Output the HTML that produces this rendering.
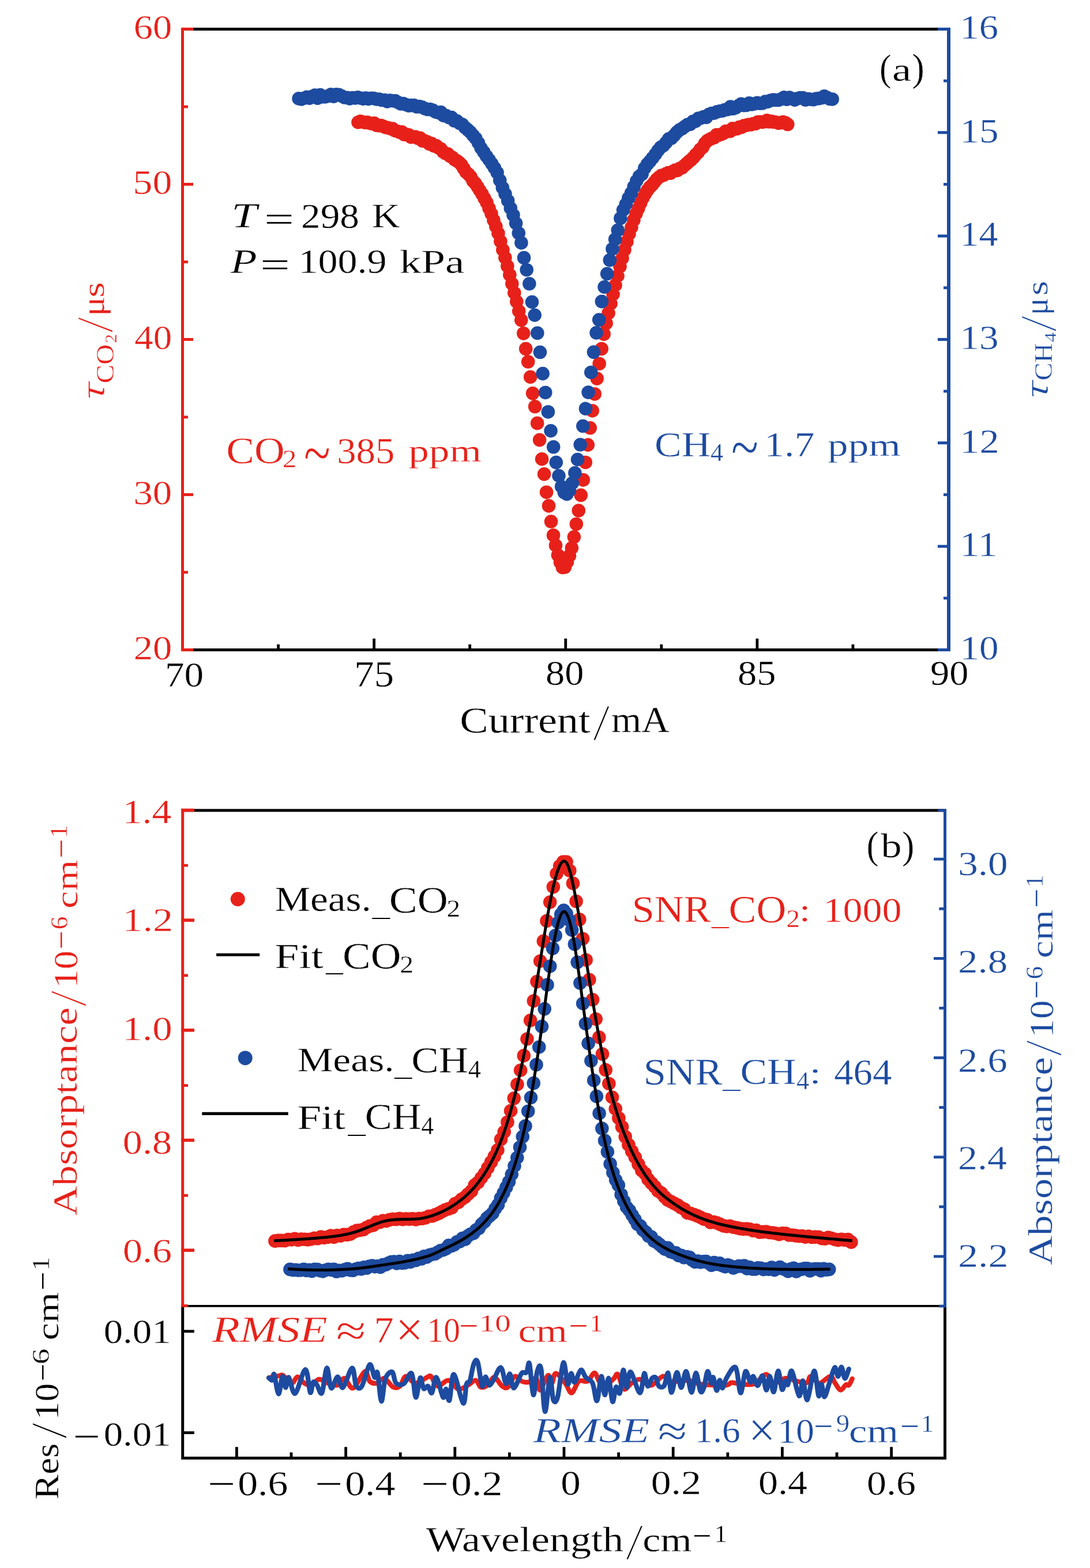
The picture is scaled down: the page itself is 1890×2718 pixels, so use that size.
<!DOCTYPE html>
<html lang="en"><head><meta charset="utf-8"><title>Ring-down time and absorptance of CO2 and CH4</title>
<style>html,body{margin:0;padding:0;background:#fff}svg{display:block}</style></head>
<body>
<svg xmlns="http://www.w3.org/2000/svg" width="1890" height="2718" viewBox="0 0 1890 2718" font-family='"Liberation Serif", serif'>
<rect width="1890" height="2718" fill="#fff"/>
<line x1="316.5" y1="50.5" x2="1645" y2="50.5" stroke="#000000" stroke-width="5"/>
<line x1="316.5" y1="1126.5" x2="1645" y2="1126.5" stroke="#000000" stroke-width="5"/>
<line x1="648.62" y1="1126.5" x2="648.62" y2="1106.9" stroke="#000000" stroke-width="4.8"/>
<line x1="980.75" y1="1126.5" x2="980.75" y2="1106.9" stroke="#000000" stroke-width="4.8"/>
<line x1="1312.88" y1="1126.5" x2="1312.88" y2="1106.9" stroke="#000000" stroke-width="4.8"/>
<line x1="482.56" y1="1126.5" x2="482.56" y2="1117" stroke="#000000" stroke-width="4.8"/>
<line x1="814.69" y1="1126.5" x2="814.69" y2="1117" stroke="#000000" stroke-width="4.8"/>
<line x1="1146.81" y1="1126.5" x2="1146.81" y2="1117" stroke="#000000" stroke-width="4.8"/>
<line x1="1478.94" y1="1126.5" x2="1478.94" y2="1117" stroke="#000000" stroke-width="4.8"/>
<path d="M609.15 211.97a11.8 11.8 0 1 0 23.6 0a11.8 11.8 0 1 0 -23.6 0zM613.13 210.35a11.8 11.8 0 1 0 23.6 0a11.8 11.8 0 1 0 -23.6 0zM617.12 211.45a11.8 11.8 0 1 0 23.6 0a11.8 11.8 0 1 0 -23.6 0zM621.1 212.47a11.8 11.8 0 1 0 23.6 0a11.8 11.8 0 1 0 -23.6 0zM625.08 211.99a11.8 11.8 0 1 0 23.6 0a11.8 11.8 0 1 0 -23.6 0zM629.06 213.52a11.8 11.8 0 1 0 23.6 0a11.8 11.8 0 1 0 -23.6 0zM633.05 214.32a11.8 11.8 0 1 0 23.6 0a11.8 11.8 0 1 0 -23.6 0zM637.03 213.44a11.8 11.8 0 1 0 23.6 0a11.8 11.8 0 1 0 -23.6 0zM641.01 217.13a11.8 11.8 0 1 0 23.6 0a11.8 11.8 0 1 0 -23.6 0zM645 217.72a11.8 11.8 0 1 0 23.6 0a11.8 11.8 0 1 0 -23.6 0zM648.98 217.57a11.8 11.8 0 1 0 23.6 0a11.8 11.8 0 1 0 -23.6 0zM652.96 219.13a11.8 11.8 0 1 0 23.6 0a11.8 11.8 0 1 0 -23.6 0zM656.94 220.95a11.8 11.8 0 1 0 23.6 0a11.8 11.8 0 1 0 -23.6 0zM660.93 221.44a11.8 11.8 0 1 0 23.6 0a11.8 11.8 0 1 0 -23.6 0zM664.91 222.82a11.8 11.8 0 1 0 23.6 0a11.8 11.8 0 1 0 -23.6 0zM668.89 223.05a11.8 11.8 0 1 0 23.6 0a11.8 11.8 0 1 0 -23.6 0zM672.88 226.47a11.8 11.8 0 1 0 23.6 0a11.8 11.8 0 1 0 -23.6 0zM676.86 227.51a11.8 11.8 0 1 0 23.6 0a11.8 11.8 0 1 0 -23.6 0zM680.84 229.08a11.8 11.8 0 1 0 23.6 0a11.8 11.8 0 1 0 -23.6 0zM684.82 228.69a11.8 11.8 0 1 0 23.6 0a11.8 11.8 0 1 0 -23.6 0zM688.81 233.18a11.8 11.8 0 1 0 23.6 0a11.8 11.8 0 1 0 -23.6 0zM692.79 233.08a11.8 11.8 0 1 0 23.6 0a11.8 11.8 0 1 0 -23.6 0zM696.77 233.93a11.8 11.8 0 1 0 23.6 0a11.8 11.8 0 1 0 -23.6 0zM700.76 237.7a11.8 11.8 0 1 0 23.6 0a11.8 11.8 0 1 0 -23.6 0zM704.74 237.11a11.8 11.8 0 1 0 23.6 0a11.8 11.8 0 1 0 -23.6 0zM708.72 237.22a11.8 11.8 0 1 0 23.6 0a11.8 11.8 0 1 0 -23.6 0zM712.71 239.73a11.8 11.8 0 1 0 23.6 0a11.8 11.8 0 1 0 -23.6 0zM716.69 239.4a11.8 11.8 0 1 0 23.6 0a11.8 11.8 0 1 0 -23.6 0zM720.67 244.22a11.8 11.8 0 1 0 23.6 0a11.8 11.8 0 1 0 -23.6 0zM724.65 244.41a11.8 11.8 0 1 0 23.6 0a11.8 11.8 0 1 0 -23.6 0zM728.64 245.82a11.8 11.8 0 1 0 23.6 0a11.8 11.8 0 1 0 -23.6 0zM732.62 249.4a11.8 11.8 0 1 0 23.6 0a11.8 11.8 0 1 0 -23.6 0zM736.6 248.72a11.8 11.8 0 1 0 23.6 0a11.8 11.8 0 1 0 -23.6 0zM740.59 252.89a11.8 11.8 0 1 0 23.6 0a11.8 11.8 0 1 0 -23.6 0zM744.57 252.57a11.8 11.8 0 1 0 23.6 0a11.8 11.8 0 1 0 -23.6 0zM748.55 256.2a11.8 11.8 0 1 0 23.6 0a11.8 11.8 0 1 0 -23.6 0zM752.53 258.07a11.8 11.8 0 1 0 23.6 0a11.8 11.8 0 1 0 -23.6 0zM756.52 263.08a11.8 11.8 0 1 0 23.6 0a11.8 11.8 0 1 0 -23.6 0zM760.5 265.95a11.8 11.8 0 1 0 23.6 0a11.8 11.8 0 1 0 -23.6 0zM764.48 266.69a11.8 11.8 0 1 0 23.6 0a11.8 11.8 0 1 0 -23.6 0zM768.47 270.62a11.8 11.8 0 1 0 23.6 0a11.8 11.8 0 1 0 -23.6 0zM772.45 272.69a11.8 11.8 0 1 0 23.6 0a11.8 11.8 0 1 0 -23.6 0zM776.43 276.59a11.8 11.8 0 1 0 23.6 0a11.8 11.8 0 1 0 -23.6 0zM780.41 278.83a11.8 11.8 0 1 0 23.6 0a11.8 11.8 0 1 0 -23.6 0zM784.4 281.74a11.8 11.8 0 1 0 23.6 0a11.8 11.8 0 1 0 -23.6 0zM788.38 285.85a11.8 11.8 0 1 0 23.6 0a11.8 11.8 0 1 0 -23.6 0zM792.36 292.21a11.8 11.8 0 1 0 23.6 0a11.8 11.8 0 1 0 -23.6 0zM796.35 298.51a11.8 11.8 0 1 0 23.6 0a11.8 11.8 0 1 0 -23.6 0zM800.33 301.8a11.8 11.8 0 1 0 23.6 0a11.8 11.8 0 1 0 -23.6 0zM804.31 306.25a11.8 11.8 0 1 0 23.6 0a11.8 11.8 0 1 0 -23.6 0zM808.29 313.58a11.8 11.8 0 1 0 23.6 0a11.8 11.8 0 1 0 -23.6 0zM812.28 317.93a11.8 11.8 0 1 0 23.6 0a11.8 11.8 0 1 0 -23.6 0zM816.26 323.82a11.8 11.8 0 1 0 23.6 0a11.8 11.8 0 1 0 -23.6 0zM820.24 330.26a11.8 11.8 0 1 0 23.6 0a11.8 11.8 0 1 0 -23.6 0zM824.23 336.71a11.8 11.8 0 1 0 23.6 0a11.8 11.8 0 1 0 -23.6 0zM828.21 343.86a11.8 11.8 0 1 0 23.6 0a11.8 11.8 0 1 0 -23.6 0zM832.19 351.11a11.8 11.8 0 1 0 23.6 0a11.8 11.8 0 1 0 -23.6 0zM836.17 361.15a11.8 11.8 0 1 0 23.6 0a11.8 11.8 0 1 0 -23.6 0zM840.16 370.47a11.8 11.8 0 1 0 23.6 0a11.8 11.8 0 1 0 -23.6 0zM844.14 381.82a11.8 11.8 0 1 0 23.6 0a11.8 11.8 0 1 0 -23.6 0zM848.12 392.59a11.8 11.8 0 1 0 23.6 0a11.8 11.8 0 1 0 -23.6 0zM852.11 404.32a11.8 11.8 0 1 0 23.6 0a11.8 11.8 0 1 0 -23.6 0zM856.09 418.45a11.8 11.8 0 1 0 23.6 0a11.8 11.8 0 1 0 -23.6 0zM860.07 433.16a11.8 11.8 0 1 0 23.6 0a11.8 11.8 0 1 0 -23.6 0zM864.05 446.65a11.8 11.8 0 1 0 23.6 0a11.8 11.8 0 1 0 -23.6 0zM868.04 461.3a11.8 11.8 0 1 0 23.6 0a11.8 11.8 0 1 0 -23.6 0zM872.02 476.36a11.8 11.8 0 1 0 23.6 0a11.8 11.8 0 1 0 -23.6 0zM876 491.84a11.8 11.8 0 1 0 23.6 0a11.8 11.8 0 1 0 -23.6 0zM879.99 507.67a11.8 11.8 0 1 0 23.6 0a11.8 11.8 0 1 0 -23.6 0zM883.97 522.81a11.8 11.8 0 1 0 23.6 0a11.8 11.8 0 1 0 -23.6 0zM887.95 539.31a11.8 11.8 0 1 0 23.6 0a11.8 11.8 0 1 0 -23.6 0zM891.94 554.85a11.8 11.8 0 1 0 23.6 0a11.8 11.8 0 1 0 -23.6 0zM895.92 577.84a11.8 11.8 0 1 0 23.6 0a11.8 11.8 0 1 0 -23.6 0zM899.9 604.62a11.8 11.8 0 1 0 23.6 0a11.8 11.8 0 1 0 -23.6 0zM903.88 627.04a11.8 11.8 0 1 0 23.6 0a11.8 11.8 0 1 0 -23.6 0zM907.87 653.53a11.8 11.8 0 1 0 23.6 0a11.8 11.8 0 1 0 -23.6 0zM911.85 681.82a11.8 11.8 0 1 0 23.6 0a11.8 11.8 0 1 0 -23.6 0zM915.83 704.81a11.8 11.8 0 1 0 23.6 0a11.8 11.8 0 1 0 -23.6 0zM919.82 733.63a11.8 11.8 0 1 0 23.6 0a11.8 11.8 0 1 0 -23.6 0zM923.8 762.56a11.8 11.8 0 1 0 23.6 0a11.8 11.8 0 1 0 -23.6 0zM927.78 795.77a11.8 11.8 0 1 0 23.6 0a11.8 11.8 0 1 0 -23.6 0zM931.76 821.84a11.8 11.8 0 1 0 23.6 0a11.8 11.8 0 1 0 -23.6 0zM935.75 853.19a11.8 11.8 0 1 0 23.6 0a11.8 11.8 0 1 0 -23.6 0zM939.73 876.9a11.8 11.8 0 1 0 23.6 0a11.8 11.8 0 1 0 -23.6 0zM943.71 904.07a11.8 11.8 0 1 0 23.6 0a11.8 11.8 0 1 0 -23.6 0zM947.7 927.92a11.8 11.8 0 1 0 23.6 0a11.8 11.8 0 1 0 -23.6 0zM951.68 945.38a11.8 11.8 0 1 0 23.6 0a11.8 11.8 0 1 0 -23.6 0zM955.66 962.3a11.8 11.8 0 1 0 23.6 0a11.8 11.8 0 1 0 -23.6 0zM959.64 974.81a11.8 11.8 0 1 0 23.6 0a11.8 11.8 0 1 0 -23.6 0zM963.63 983.74a11.8 11.8 0 1 0 23.6 0a11.8 11.8 0 1 0 -23.6 0zM967.61 983.08a11.8 11.8 0 1 0 23.6 0a11.8 11.8 0 1 0 -23.6 0zM971.59 974.09a11.8 11.8 0 1 0 23.6 0a11.8 11.8 0 1 0 -23.6 0zM975.58 963.39a11.8 11.8 0 1 0 23.6 0a11.8 11.8 0 1 0 -23.6 0zM979.56 949.86a11.8 11.8 0 1 0 23.6 0a11.8 11.8 0 1 0 -23.6 0zM983.54 930.86a11.8 11.8 0 1 0 23.6 0a11.8 11.8 0 1 0 -23.6 0zM987.52 908.44a11.8 11.8 0 1 0 23.6 0a11.8 11.8 0 1 0 -23.6 0zM991.51 885.07a11.8 11.8 0 1 0 23.6 0a11.8 11.8 0 1 0 -23.6 0zM995.49 858.36a11.8 11.8 0 1 0 23.6 0a11.8 11.8 0 1 0 -23.6 0zM999.47 831.91a11.8 11.8 0 1 0 23.6 0a11.8 11.8 0 1 0 -23.6 0zM1003.46 801.44a11.8 11.8 0 1 0 23.6 0a11.8 11.8 0 1 0 -23.6 0zM1007.44 771.16a11.8 11.8 0 1 0 23.6 0a11.8 11.8 0 1 0 -23.6 0zM1011.42 741.81a11.8 11.8 0 1 0 23.6 0a11.8 11.8 0 1 0 -23.6 0zM1015.4 712.03a11.8 11.8 0 1 0 23.6 0a11.8 11.8 0 1 0 -23.6 0zM1019.39 682.93a11.8 11.8 0 1 0 23.6 0a11.8 11.8 0 1 0 -23.6 0zM1023.37 656.09a11.8 11.8 0 1 0 23.6 0a11.8 11.8 0 1 0 -23.6 0zM1027.35 630.44a11.8 11.8 0 1 0 23.6 0a11.8 11.8 0 1 0 -23.6 0zM1031.34 604.64a11.8 11.8 0 1 0 23.6 0a11.8 11.8 0 1 0 -23.6 0zM1035.32 579.13a11.8 11.8 0 1 0 23.6 0a11.8 11.8 0 1 0 -23.6 0zM1039.3 560.34a11.8 11.8 0 1 0 23.6 0a11.8 11.8 0 1 0 -23.6 0zM1043.28 542.67a11.8 11.8 0 1 0 23.6 0a11.8 11.8 0 1 0 -23.6 0zM1047.27 526.18a11.8 11.8 0 1 0 23.6 0a11.8 11.8 0 1 0 -23.6 0zM1051.25 510.04a11.8 11.8 0 1 0 23.6 0a11.8 11.8 0 1 0 -23.6 0zM1055.23 494.24a11.8 11.8 0 1 0 23.6 0a11.8 11.8 0 1 0 -23.6 0zM1059.22 478.25a11.8 11.8 0 1 0 23.6 0a11.8 11.8 0 1 0 -23.6 0zM1063.2 462.07a11.8 11.8 0 1 0 23.6 0a11.8 11.8 0 1 0 -23.6 0zM1067.18 447.69a11.8 11.8 0 1 0 23.6 0a11.8 11.8 0 1 0 -23.6 0zM1071.16 433.1a11.8 11.8 0 1 0 23.6 0a11.8 11.8 0 1 0 -23.6 0zM1075.15 418.9a11.8 11.8 0 1 0 23.6 0a11.8 11.8 0 1 0 -23.6 0zM1079.13 405.38a11.8 11.8 0 1 0 23.6 0a11.8 11.8 0 1 0 -23.6 0zM1083.11 393.99a11.8 11.8 0 1 0 23.6 0a11.8 11.8 0 1 0 -23.6 0zM1087.1 381.35a11.8 11.8 0 1 0 23.6 0a11.8 11.8 0 1 0 -23.6 0zM1091.08 370.39a11.8 11.8 0 1 0 23.6 0a11.8 11.8 0 1 0 -23.6 0zM1095.06 361.27a11.8 11.8 0 1 0 23.6 0a11.8 11.8 0 1 0 -23.6 0zM1099.05 351.8a11.8 11.8 0 1 0 23.6 0a11.8 11.8 0 1 0 -23.6 0zM1103.03 342.95a11.8 11.8 0 1 0 23.6 0a11.8 11.8 0 1 0 -23.6 0zM1107.01 335.83a11.8 11.8 0 1 0 23.6 0a11.8 11.8 0 1 0 -23.6 0zM1110.99 329.57a11.8 11.8 0 1 0 23.6 0a11.8 11.8 0 1 0 -23.6 0zM1114.98 324.42a11.8 11.8 0 1 0 23.6 0a11.8 11.8 0 1 0 -23.6 0zM1118.96 320.49a11.8 11.8 0 1 0 23.6 0a11.8 11.8 0 1 0 -23.6 0zM1122.94 315.76a11.8 11.8 0 1 0 23.6 0a11.8 11.8 0 1 0 -23.6 0zM1126.93 310.77a11.8 11.8 0 1 0 23.6 0a11.8 11.8 0 1 0 -23.6 0zM1130.91 307.23a11.8 11.8 0 1 0 23.6 0a11.8 11.8 0 1 0 -23.6 0zM1134.89 304.45a11.8 11.8 0 1 0 23.6 0a11.8 11.8 0 1 0 -23.6 0zM1138.87 303.71a11.8 11.8 0 1 0 23.6 0a11.8 11.8 0 1 0 -23.6 0zM1142.86 301.41a11.8 11.8 0 1 0 23.6 0a11.8 11.8 0 1 0 -23.6 0zM1146.84 299.63a11.8 11.8 0 1 0 23.6 0a11.8 11.8 0 1 0 -23.6 0zM1150.82 300.16a11.8 11.8 0 1 0 23.6 0a11.8 11.8 0 1 0 -23.6 0zM1154.81 297.24a11.8 11.8 0 1 0 23.6 0a11.8 11.8 0 1 0 -23.6 0zM1158.79 294.96a11.8 11.8 0 1 0 23.6 0a11.8 11.8 0 1 0 -23.6 0zM1162.77 295.33a11.8 11.8 0 1 0 23.6 0a11.8 11.8 0 1 0 -23.6 0zM1166.75 292.17a11.8 11.8 0 1 0 23.6 0a11.8 11.8 0 1 0 -23.6 0zM1170.74 290.89a11.8 11.8 0 1 0 23.6 0a11.8 11.8 0 1 0 -23.6 0zM1174.72 287.2a11.8 11.8 0 1 0 23.6 0a11.8 11.8 0 1 0 -23.6 0zM1178.7 283.67a11.8 11.8 0 1 0 23.6 0a11.8 11.8 0 1 0 -23.6 0zM1182.69 280.19a11.8 11.8 0 1 0 23.6 0a11.8 11.8 0 1 0 -23.6 0zM1186.67 276.89a11.8 11.8 0 1 0 23.6 0a11.8 11.8 0 1 0 -23.6 0zM1190.65 272.86a11.8 11.8 0 1 0 23.6 0a11.8 11.8 0 1 0 -23.6 0zM1194.63 268.14a11.8 11.8 0 1 0 23.6 0a11.8 11.8 0 1 0 -23.6 0zM1198.62 264.27a11.8 11.8 0 1 0 23.6 0a11.8 11.8 0 1 0 -23.6 0zM1202.6 258.71a11.8 11.8 0 1 0 23.6 0a11.8 11.8 0 1 0 -23.6 0zM1206.58 255.29a11.8 11.8 0 1 0 23.6 0a11.8 11.8 0 1 0 -23.6 0zM1210.57 248.22a11.8 11.8 0 1 0 23.6 0a11.8 11.8 0 1 0 -23.6 0zM1214.55 244.17a11.8 11.8 0 1 0 23.6 0a11.8 11.8 0 1 0 -23.6 0zM1218.53 241.74a11.8 11.8 0 1 0 23.6 0a11.8 11.8 0 1 0 -23.6 0zM1222.51 239.86a11.8 11.8 0 1 0 23.6 0a11.8 11.8 0 1 0 -23.6 0zM1226.5 238.64a11.8 11.8 0 1 0 23.6 0a11.8 11.8 0 1 0 -23.6 0zM1230.48 233.78a11.8 11.8 0 1 0 23.6 0a11.8 11.8 0 1 0 -23.6 0zM1234.46 234.28a11.8 11.8 0 1 0 23.6 0a11.8 11.8 0 1 0 -23.6 0zM1238.45 232.98a11.8 11.8 0 1 0 23.6 0a11.8 11.8 0 1 0 -23.6 0zM1242.43 231.09a11.8 11.8 0 1 0 23.6 0a11.8 11.8 0 1 0 -23.6 0zM1246.41 227.63a11.8 11.8 0 1 0 23.6 0a11.8 11.8 0 1 0 -23.6 0zM1250.39 227.42a11.8 11.8 0 1 0 23.6 0a11.8 11.8 0 1 0 -23.6 0zM1254.38 227.42a11.8 11.8 0 1 0 23.6 0a11.8 11.8 0 1 0 -23.6 0zM1258.36 222.8a11.8 11.8 0 1 0 23.6 0a11.8 11.8 0 1 0 -23.6 0zM1262.34 223.54a11.8 11.8 0 1 0 23.6 0a11.8 11.8 0 1 0 -23.6 0zM1266.33 223.04a11.8 11.8 0 1 0 23.6 0a11.8 11.8 0 1 0 -23.6 0zM1270.31 220.19a11.8 11.8 0 1 0 23.6 0a11.8 11.8 0 1 0 -23.6 0zM1274.29 220.45a11.8 11.8 0 1 0 23.6 0a11.8 11.8 0 1 0 -23.6 0zM1278.28 217.84a11.8 11.8 0 1 0 23.6 0a11.8 11.8 0 1 0 -23.6 0zM1282.26 217.13a11.8 11.8 0 1 0 23.6 0a11.8 11.8 0 1 0 -23.6 0zM1286.24 216.16a11.8 11.8 0 1 0 23.6 0a11.8 11.8 0 1 0 -23.6 0zM1290.22 216.06a11.8 11.8 0 1 0 23.6 0a11.8 11.8 0 1 0 -23.6 0zM1294.21 214.6a11.8 11.8 0 1 0 23.6 0a11.8 11.8 0 1 0 -23.6 0zM1298.19 214.45a11.8 11.8 0 1 0 23.6 0a11.8 11.8 0 1 0 -23.6 0zM1302.17 211.46a11.8 11.8 0 1 0 23.6 0a11.8 11.8 0 1 0 -23.6 0zM1306.16 211.3a11.8 11.8 0 1 0 23.6 0a11.8 11.8 0 1 0 -23.6 0zM1310.14 211.66a11.8 11.8 0 1 0 23.6 0a11.8 11.8 0 1 0 -23.6 0zM1314.12 210.83a11.8 11.8 0 1 0 23.6 0a11.8 11.8 0 1 0 -23.6 0zM1318.1 208.89a11.8 11.8 0 1 0 23.6 0a11.8 11.8 0 1 0 -23.6 0zM1322.09 211.07a11.8 11.8 0 1 0 23.6 0a11.8 11.8 0 1 0 -23.6 0zM1326.07 210.27a11.8 11.8 0 1 0 23.6 0a11.8 11.8 0 1 0 -23.6 0zM1330.05 211.57a11.8 11.8 0 1 0 23.6 0a11.8 11.8 0 1 0 -23.6 0zM1334.04 211.98a11.8 11.8 0 1 0 23.6 0a11.8 11.8 0 1 0 -23.6 0zM1338.02 213.38a11.8 11.8 0 1 0 23.6 0a11.8 11.8 0 1 0 -23.6 0zM1342 212.82a11.8 11.8 0 1 0 23.6 0a11.8 11.8 0 1 0 -23.6 0zM1345.98 211.5a11.8 11.8 0 1 0 23.6 0a11.8 11.8 0 1 0 -23.6 0zM1349.97 212.7a11.8 11.8 0 1 0 23.6 0a11.8 11.8 0 1 0 -23.6 0zM1353.95 215.56a11.8 11.8 0 1 0 23.6 0a11.8 11.8 0 1 0 -23.6 0z" fill="#e7211a"/>
<path d="M506.25 170.9a11.8 11.8 0 1 0 23.6 0a11.8 11.8 0 1 0 -23.6 0zM510.9 172.03a11.8 11.8 0 1 0 23.6 0a11.8 11.8 0 1 0 -23.6 0zM515.55 170.28a11.8 11.8 0 1 0 23.6 0a11.8 11.8 0 1 0 -23.6 0zM520.2 168.35a11.8 11.8 0 1 0 23.6 0a11.8 11.8 0 1 0 -23.6 0zM524.84 170.18a11.8 11.8 0 1 0 23.6 0a11.8 11.8 0 1 0 -23.6 0zM529.49 167.22a11.8 11.8 0 1 0 23.6 0a11.8 11.8 0 1 0 -23.6 0zM534.14 165.15a11.8 11.8 0 1 0 23.6 0a11.8 11.8 0 1 0 -23.6 0zM538.79 170.1a11.8 11.8 0 1 0 23.6 0a11.8 11.8 0 1 0 -23.6 0zM543.44 164.61a11.8 11.8 0 1 0 23.6 0a11.8 11.8 0 1 0 -23.6 0zM548.09 167.61a11.8 11.8 0 1 0 23.6 0a11.8 11.8 0 1 0 -23.6 0zM552.74 167.7a11.8 11.8 0 1 0 23.6 0a11.8 11.8 0 1 0 -23.6 0zM557.39 166.4a11.8 11.8 0 1 0 23.6 0a11.8 11.8 0 1 0 -23.6 0zM562.03 163.8a11.8 11.8 0 1 0 23.6 0a11.8 11.8 0 1 0 -23.6 0zM566.68 167.17a11.8 11.8 0 1 0 23.6 0a11.8 11.8 0 1 0 -23.6 0zM571.33 163.93a11.8 11.8 0 1 0 23.6 0a11.8 11.8 0 1 0 -23.6 0zM575.98 164.42a11.8 11.8 0 1 0 23.6 0a11.8 11.8 0 1 0 -23.6 0zM580.63 166.49a11.8 11.8 0 1 0 23.6 0a11.8 11.8 0 1 0 -23.6 0zM585.28 168.99a11.8 11.8 0 1 0 23.6 0a11.8 11.8 0 1 0 -23.6 0zM589.93 169.37a11.8 11.8 0 1 0 23.6 0a11.8 11.8 0 1 0 -23.6 0zM594.58 170.83a11.8 11.8 0 1 0 23.6 0a11.8 11.8 0 1 0 -23.6 0zM599.22 169.55a11.8 11.8 0 1 0 23.6 0a11.8 11.8 0 1 0 -23.6 0zM603.87 170.02a11.8 11.8 0 1 0 23.6 0a11.8 11.8 0 1 0 -23.6 0zM608.52 168.85a11.8 11.8 0 1 0 23.6 0a11.8 11.8 0 1 0 -23.6 0zM613.17 169.98a11.8 11.8 0 1 0 23.6 0a11.8 11.8 0 1 0 -23.6 0zM617.82 171.23a11.8 11.8 0 1 0 23.6 0a11.8 11.8 0 1 0 -23.6 0zM622.47 170.18a11.8 11.8 0 1 0 23.6 0a11.8 11.8 0 1 0 -23.6 0zM627.12 171.37a11.8 11.8 0 1 0 23.6 0a11.8 11.8 0 1 0 -23.6 0zM631.77 170.31a11.8 11.8 0 1 0 23.6 0a11.8 11.8 0 1 0 -23.6 0zM636.41 170.67a11.8 11.8 0 1 0 23.6 0a11.8 11.8 0 1 0 -23.6 0zM641.06 171.92a11.8 11.8 0 1 0 23.6 0a11.8 11.8 0 1 0 -23.6 0zM645.71 172.08a11.8 11.8 0 1 0 23.6 0a11.8 11.8 0 1 0 -23.6 0zM650.36 173.55a11.8 11.8 0 1 0 23.6 0a11.8 11.8 0 1 0 -23.6 0zM655.01 173.47a11.8 11.8 0 1 0 23.6 0a11.8 11.8 0 1 0 -23.6 0zM659.66 176a11.8 11.8 0 1 0 23.6 0a11.8 11.8 0 1 0 -23.6 0zM664.31 174.04a11.8 11.8 0 1 0 23.6 0a11.8 11.8 0 1 0 -23.6 0zM668.96 174.73a11.8 11.8 0 1 0 23.6 0a11.8 11.8 0 1 0 -23.6 0zM673.6 174.75a11.8 11.8 0 1 0 23.6 0a11.8 11.8 0 1 0 -23.6 0zM678.25 177.5a11.8 11.8 0 1 0 23.6 0a11.8 11.8 0 1 0 -23.6 0zM682.9 179.85a11.8 11.8 0 1 0 23.6 0a11.8 11.8 0 1 0 -23.6 0zM687.55 179.43a11.8 11.8 0 1 0 23.6 0a11.8 11.8 0 1 0 -23.6 0zM692.2 181.45a11.8 11.8 0 1 0 23.6 0a11.8 11.8 0 1 0 -23.6 0zM696.85 183.19a11.8 11.8 0 1 0 23.6 0a11.8 11.8 0 1 0 -23.6 0zM701.5 182.66a11.8 11.8 0 1 0 23.6 0a11.8 11.8 0 1 0 -23.6 0zM706.15 182.63a11.8 11.8 0 1 0 23.6 0a11.8 11.8 0 1 0 -23.6 0zM710.79 185.07a11.8 11.8 0 1 0 23.6 0a11.8 11.8 0 1 0 -23.6 0zM715.44 184.56a11.8 11.8 0 1 0 23.6 0a11.8 11.8 0 1 0 -23.6 0zM720.09 185.81a11.8 11.8 0 1 0 23.6 0a11.8 11.8 0 1 0 -23.6 0zM724.74 188.08a11.8 11.8 0 1 0 23.6 0a11.8 11.8 0 1 0 -23.6 0zM729.39 189.64a11.8 11.8 0 1 0 23.6 0a11.8 11.8 0 1 0 -23.6 0zM734.04 189.55a11.8 11.8 0 1 0 23.6 0a11.8 11.8 0 1 0 -23.6 0zM738.69 191.19a11.8 11.8 0 1 0 23.6 0a11.8 11.8 0 1 0 -23.6 0zM743.34 194.01a11.8 11.8 0 1 0 23.6 0a11.8 11.8 0 1 0 -23.6 0zM747.98 195.17a11.8 11.8 0 1 0 23.6 0a11.8 11.8 0 1 0 -23.6 0zM752.63 194.6a11.8 11.8 0 1 0 23.6 0a11.8 11.8 0 1 0 -23.6 0zM757.28 200.38a11.8 11.8 0 1 0 23.6 0a11.8 11.8 0 1 0 -23.6 0zM761.93 200.66a11.8 11.8 0 1 0 23.6 0a11.8 11.8 0 1 0 -23.6 0zM766.58 203.64a11.8 11.8 0 1 0 23.6 0a11.8 11.8 0 1 0 -23.6 0zM771.23 203.6a11.8 11.8 0 1 0 23.6 0a11.8 11.8 0 1 0 -23.6 0zM775.88 209.3a11.8 11.8 0 1 0 23.6 0a11.8 11.8 0 1 0 -23.6 0zM780.53 209.92a11.8 11.8 0 1 0 23.6 0a11.8 11.8 0 1 0 -23.6 0zM785.17 213.74a11.8 11.8 0 1 0 23.6 0a11.8 11.8 0 1 0 -23.6 0zM789.82 215.7a11.8 11.8 0 1 0 23.6 0a11.8 11.8 0 1 0 -23.6 0zM794.47 220.96a11.8 11.8 0 1 0 23.6 0a11.8 11.8 0 1 0 -23.6 0zM799.12 224.79a11.8 11.8 0 1 0 23.6 0a11.8 11.8 0 1 0 -23.6 0zM803.77 229.08a11.8 11.8 0 1 0 23.6 0a11.8 11.8 0 1 0 -23.6 0zM808.42 234.62a11.8 11.8 0 1 0 23.6 0a11.8 11.8 0 1 0 -23.6 0zM813.07 239.96a11.8 11.8 0 1 0 23.6 0a11.8 11.8 0 1 0 -23.6 0zM817.72 247.78a11.8 11.8 0 1 0 23.6 0a11.8 11.8 0 1 0 -23.6 0zM822.36 256.75a11.8 11.8 0 1 0 23.6 0a11.8 11.8 0 1 0 -23.6 0zM827.01 263.57a11.8 11.8 0 1 0 23.6 0a11.8 11.8 0 1 0 -23.6 0zM831.66 270.64a11.8 11.8 0 1 0 23.6 0a11.8 11.8 0 1 0 -23.6 0zM836.31 277.01a11.8 11.8 0 1 0 23.6 0a11.8 11.8 0 1 0 -23.6 0zM840.96 283.82a11.8 11.8 0 1 0 23.6 0a11.8 11.8 0 1 0 -23.6 0zM845.61 291.01a11.8 11.8 0 1 0 23.6 0a11.8 11.8 0 1 0 -23.6 0zM850.26 299.04a11.8 11.8 0 1 0 23.6 0a11.8 11.8 0 1 0 -23.6 0zM854.91 312.58a11.8 11.8 0 1 0 23.6 0a11.8 11.8 0 1 0 -23.6 0zM859.55 325.48a11.8 11.8 0 1 0 23.6 0a11.8 11.8 0 1 0 -23.6 0zM864.2 336.27a11.8 11.8 0 1 0 23.6 0a11.8 11.8 0 1 0 -23.6 0zM868.85 347.96a11.8 11.8 0 1 0 23.6 0a11.8 11.8 0 1 0 -23.6 0zM873.5 360.97a11.8 11.8 0 1 0 23.6 0a11.8 11.8 0 1 0 -23.6 0zM878.15 372.63a11.8 11.8 0 1 0 23.6 0a11.8 11.8 0 1 0 -23.6 0zM882.8 386.99a11.8 11.8 0 1 0 23.6 0a11.8 11.8 0 1 0 -23.6 0zM887.45 404.1a11.8 11.8 0 1 0 23.6 0a11.8 11.8 0 1 0 -23.6 0zM892.1 420.92a11.8 11.8 0 1 0 23.6 0a11.8 11.8 0 1 0 -23.6 0zM896.74 446.94a11.8 11.8 0 1 0 23.6 0a11.8 11.8 0 1 0 -23.6 0zM901.39 467.7a11.8 11.8 0 1 0 23.6 0a11.8 11.8 0 1 0 -23.6 0zM906.04 491.81a11.8 11.8 0 1 0 23.6 0a11.8 11.8 0 1 0 -23.6 0zM910.69 523.49a11.8 11.8 0 1 0 23.6 0a11.8 11.8 0 1 0 -23.6 0zM915.34 546.27a11.8 11.8 0 1 0 23.6 0a11.8 11.8 0 1 0 -23.6 0zM919.99 577.37a11.8 11.8 0 1 0 23.6 0a11.8 11.8 0 1 0 -23.6 0zM924.64 610.57a11.8 11.8 0 1 0 23.6 0a11.8 11.8 0 1 0 -23.6 0zM929.29 647.66a11.8 11.8 0 1 0 23.6 0a11.8 11.8 0 1 0 -23.6 0zM933.93 680.46a11.8 11.8 0 1 0 23.6 0a11.8 11.8 0 1 0 -23.6 0zM938.58 713.94a11.8 11.8 0 1 0 23.6 0a11.8 11.8 0 1 0 -23.6 0zM943.23 746.78a11.8 11.8 0 1 0 23.6 0a11.8 11.8 0 1 0 -23.6 0zM947.88 774.77a11.8 11.8 0 1 0 23.6 0a11.8 11.8 0 1 0 -23.6 0zM952.53 801.6a11.8 11.8 0 1 0 23.6 0a11.8 11.8 0 1 0 -23.6 0zM957.18 824.76a11.8 11.8 0 1 0 23.6 0a11.8 11.8 0 1 0 -23.6 0zM961.83 843.46a11.8 11.8 0 1 0 23.6 0a11.8 11.8 0 1 0 -23.6 0zM966.48 853.56a11.8 11.8 0 1 0 23.6 0a11.8 11.8 0 1 0 -23.6 0zM971.12 856.38a11.8 11.8 0 1 0 23.6 0a11.8 11.8 0 1 0 -23.6 0zM975.77 850.07a11.8 11.8 0 1 0 23.6 0a11.8 11.8 0 1 0 -23.6 0zM980.42 837.41a11.8 11.8 0 1 0 23.6 0a11.8 11.8 0 1 0 -23.6 0zM985.07 819.81a11.8 11.8 0 1 0 23.6 0a11.8 11.8 0 1 0 -23.6 0zM989.72 796.53a11.8 11.8 0 1 0 23.6 0a11.8 11.8 0 1 0 -23.6 0zM994.37 770.81a11.8 11.8 0 1 0 23.6 0a11.8 11.8 0 1 0 -23.6 0zM999.02 738.57a11.8 11.8 0 1 0 23.6 0a11.8 11.8 0 1 0 -23.6 0zM1003.67 708.42a11.8 11.8 0 1 0 23.6 0a11.8 11.8 0 1 0 -23.6 0zM1008.31 680.1a11.8 11.8 0 1 0 23.6 0a11.8 11.8 0 1 0 -23.6 0zM1012.96 645.53a11.8 11.8 0 1 0 23.6 0a11.8 11.8 0 1 0 -23.6 0zM1017.61 610.35a11.8 11.8 0 1 0 23.6 0a11.8 11.8 0 1 0 -23.6 0zM1022.26 576.88a11.8 11.8 0 1 0 23.6 0a11.8 11.8 0 1 0 -23.6 0zM1026.91 554.37a11.8 11.8 0 1 0 23.6 0a11.8 11.8 0 1 0 -23.6 0zM1031.56 522.58a11.8 11.8 0 1 0 23.6 0a11.8 11.8 0 1 0 -23.6 0zM1036.21 497.52a11.8 11.8 0 1 0 23.6 0a11.8 11.8 0 1 0 -23.6 0zM1040.86 474.55a11.8 11.8 0 1 0 23.6 0a11.8 11.8 0 1 0 -23.6 0zM1045.5 450.88a11.8 11.8 0 1 0 23.6 0a11.8 11.8 0 1 0 -23.6 0zM1050.15 431.46a11.8 11.8 0 1 0 23.6 0a11.8 11.8 0 1 0 -23.6 0zM1054.8 414.88a11.8 11.8 0 1 0 23.6 0a11.8 11.8 0 1 0 -23.6 0zM1059.45 399.09a11.8 11.8 0 1 0 23.6 0a11.8 11.8 0 1 0 -23.6 0zM1064.1 378.41a11.8 11.8 0 1 0 23.6 0a11.8 11.8 0 1 0 -23.6 0zM1068.75 364.1a11.8 11.8 0 1 0 23.6 0a11.8 11.8 0 1 0 -23.6 0zM1073.4 354.03a11.8 11.8 0 1 0 23.6 0a11.8 11.8 0 1 0 -23.6 0zM1078.05 343.4a11.8 11.8 0 1 0 23.6 0a11.8 11.8 0 1 0 -23.6 0zM1082.69 334.71a11.8 11.8 0 1 0 23.6 0a11.8 11.8 0 1 0 -23.6 0zM1087.34 323.56a11.8 11.8 0 1 0 23.6 0a11.8 11.8 0 1 0 -23.6 0zM1091.99 313.52a11.8 11.8 0 1 0 23.6 0a11.8 11.8 0 1 0 -23.6 0zM1096.64 305.74a11.8 11.8 0 1 0 23.6 0a11.8 11.8 0 1 0 -23.6 0zM1101.29 301.85a11.8 11.8 0 1 0 23.6 0a11.8 11.8 0 1 0 -23.6 0zM1105.94 291.48a11.8 11.8 0 1 0 23.6 0a11.8 11.8 0 1 0 -23.6 0zM1110.59 284.68a11.8 11.8 0 1 0 23.6 0a11.8 11.8 0 1 0 -23.6 0zM1115.24 279.42a11.8 11.8 0 1 0 23.6 0a11.8 11.8 0 1 0 -23.6 0zM1119.88 273.71a11.8 11.8 0 1 0 23.6 0a11.8 11.8 0 1 0 -23.6 0zM1124.53 267.5a11.8 11.8 0 1 0 23.6 0a11.8 11.8 0 1 0 -23.6 0zM1129.18 260.82a11.8 11.8 0 1 0 23.6 0a11.8 11.8 0 1 0 -23.6 0zM1133.83 255.39a11.8 11.8 0 1 0 23.6 0a11.8 11.8 0 1 0 -23.6 0zM1138.48 252.48a11.8 11.8 0 1 0 23.6 0a11.8 11.8 0 1 0 -23.6 0zM1143.13 247.06a11.8 11.8 0 1 0 23.6 0a11.8 11.8 0 1 0 -23.6 0zM1147.78 240.72a11.8 11.8 0 1 0 23.6 0a11.8 11.8 0 1 0 -23.6 0zM1152.43 239.58a11.8 11.8 0 1 0 23.6 0a11.8 11.8 0 1 0 -23.6 0zM1157.07 234.82a11.8 11.8 0 1 0 23.6 0a11.8 11.8 0 1 0 -23.6 0zM1161.72 229.32a11.8 11.8 0 1 0 23.6 0a11.8 11.8 0 1 0 -23.6 0zM1166.37 225.31a11.8 11.8 0 1 0 23.6 0a11.8 11.8 0 1 0 -23.6 0zM1171.02 222.84a11.8 11.8 0 1 0 23.6 0a11.8 11.8 0 1 0 -23.6 0zM1175.67 219.23a11.8 11.8 0 1 0 23.6 0a11.8 11.8 0 1 0 -23.6 0zM1180.32 215.98a11.8 11.8 0 1 0 23.6 0a11.8 11.8 0 1 0 -23.6 0zM1184.97 215.42a11.8 11.8 0 1 0 23.6 0a11.8 11.8 0 1 0 -23.6 0zM1189.62 210.51a11.8 11.8 0 1 0 23.6 0a11.8 11.8 0 1 0 -23.6 0zM1194.26 210.08a11.8 11.8 0 1 0 23.6 0a11.8 11.8 0 1 0 -23.6 0zM1198.91 205.25a11.8 11.8 0 1 0 23.6 0a11.8 11.8 0 1 0 -23.6 0zM1203.56 204.63a11.8 11.8 0 1 0 23.6 0a11.8 11.8 0 1 0 -23.6 0zM1208.21 202.65a11.8 11.8 0 1 0 23.6 0a11.8 11.8 0 1 0 -23.6 0zM1212.86 203.44a11.8 11.8 0 1 0 23.6 0a11.8 11.8 0 1 0 -23.6 0zM1217.51 198.3a11.8 11.8 0 1 0 23.6 0a11.8 11.8 0 1 0 -23.6 0zM1222.16 196.44a11.8 11.8 0 1 0 23.6 0a11.8 11.8 0 1 0 -23.6 0zM1226.81 196a11.8 11.8 0 1 0 23.6 0a11.8 11.8 0 1 0 -23.6 0zM1231.45 193.86a11.8 11.8 0 1 0 23.6 0a11.8 11.8 0 1 0 -23.6 0zM1236.1 192.78a11.8 11.8 0 1 0 23.6 0a11.8 11.8 0 1 0 -23.6 0zM1240.75 192.04a11.8 11.8 0 1 0 23.6 0a11.8 11.8 0 1 0 -23.6 0zM1245.4 190.41a11.8 11.8 0 1 0 23.6 0a11.8 11.8 0 1 0 -23.6 0zM1250.05 189.62a11.8 11.8 0 1 0 23.6 0a11.8 11.8 0 1 0 -23.6 0zM1254.7 184.97a11.8 11.8 0 1 0 23.6 0a11.8 11.8 0 1 0 -23.6 0zM1259.35 188.28a11.8 11.8 0 1 0 23.6 0a11.8 11.8 0 1 0 -23.6 0zM1264 186.77a11.8 11.8 0 1 0 23.6 0a11.8 11.8 0 1 0 -23.6 0zM1268.64 183.41a11.8 11.8 0 1 0 23.6 0a11.8 11.8 0 1 0 -23.6 0zM1273.29 180.26a11.8 11.8 0 1 0 23.6 0a11.8 11.8 0 1 0 -23.6 0zM1277.94 182.69a11.8 11.8 0 1 0 23.6 0a11.8 11.8 0 1 0 -23.6 0zM1282.59 182.39a11.8 11.8 0 1 0 23.6 0a11.8 11.8 0 1 0 -23.6 0zM1287.24 178.69a11.8 11.8 0 1 0 23.6 0a11.8 11.8 0 1 0 -23.6 0zM1291.89 181.03a11.8 11.8 0 1 0 23.6 0a11.8 11.8 0 1 0 -23.6 0zM1296.54 179.88a11.8 11.8 0 1 0 23.6 0a11.8 11.8 0 1 0 -23.6 0zM1301.19 178.29a11.8 11.8 0 1 0 23.6 0a11.8 11.8 0 1 0 -23.6 0zM1305.83 179.27a11.8 11.8 0 1 0 23.6 0a11.8 11.8 0 1 0 -23.6 0zM1310.48 178.93a11.8 11.8 0 1 0 23.6 0a11.8 11.8 0 1 0 -23.6 0zM1315.13 176.16a11.8 11.8 0 1 0 23.6 0a11.8 11.8 0 1 0 -23.6 0zM1319.78 176.18a11.8 11.8 0 1 0 23.6 0a11.8 11.8 0 1 0 -23.6 0zM1324.43 174.13a11.8 11.8 0 1 0 23.6 0a11.8 11.8 0 1 0 -23.6 0zM1329.08 173.1a11.8 11.8 0 1 0 23.6 0a11.8 11.8 0 1 0 -23.6 0zM1333.73 173.48a11.8 11.8 0 1 0 23.6 0a11.8 11.8 0 1 0 -23.6 0zM1338.38 173.48a11.8 11.8 0 1 0 23.6 0a11.8 11.8 0 1 0 -23.6 0zM1343.02 171.55a11.8 11.8 0 1 0 23.6 0a11.8 11.8 0 1 0 -23.6 0zM1347.67 168.91a11.8 11.8 0 1 0 23.6 0a11.8 11.8 0 1 0 -23.6 0zM1352.32 172.1a11.8 11.8 0 1 0 23.6 0a11.8 11.8 0 1 0 -23.6 0zM1356.97 168.93a11.8 11.8 0 1 0 23.6 0a11.8 11.8 0 1 0 -23.6 0zM1361.62 170.98a11.8 11.8 0 1 0 23.6 0a11.8 11.8 0 1 0 -23.6 0zM1366.27 173.13a11.8 11.8 0 1 0 23.6 0a11.8 11.8 0 1 0 -23.6 0zM1370.92 170.92a11.8 11.8 0 1 0 23.6 0a11.8 11.8 0 1 0 -23.6 0zM1375.57 169.59a11.8 11.8 0 1 0 23.6 0a11.8 11.8 0 1 0 -23.6 0zM1380.21 169.45a11.8 11.8 0 1 0 23.6 0a11.8 11.8 0 1 0 -23.6 0zM1384.86 173.04a11.8 11.8 0 1 0 23.6 0a11.8 11.8 0 1 0 -23.6 0zM1389.51 171.58a11.8 11.8 0 1 0 23.6 0a11.8 11.8 0 1 0 -23.6 0zM1394.16 172.25a11.8 11.8 0 1 0 23.6 0a11.8 11.8 0 1 0 -23.6 0zM1398.81 172.6a11.8 11.8 0 1 0 23.6 0a11.8 11.8 0 1 0 -23.6 0zM1403.46 171.13a11.8 11.8 0 1 0 23.6 0a11.8 11.8 0 1 0 -23.6 0zM1408.11 170.59a11.8 11.8 0 1 0 23.6 0a11.8 11.8 0 1 0 -23.6 0zM1412.76 169.61a11.8 11.8 0 1 0 23.6 0a11.8 11.8 0 1 0 -23.6 0zM1417.4 166.8a11.8 11.8 0 1 0 23.6 0a11.8 11.8 0 1 0 -23.6 0zM1422.05 169.09a11.8 11.8 0 1 0 23.6 0a11.8 11.8 0 1 0 -23.6 0zM1426.7 171.47a11.8 11.8 0 1 0 23.6 0a11.8 11.8 0 1 0 -23.6 0zM1431.35 171.93a11.8 11.8 0 1 0 23.6 0a11.8 11.8 0 1 0 -23.6 0z" fill="#1d4ba0"/>
<line x1="316.5" y1="48" x2="316.5" y2="1129" stroke="#e7211a" stroke-width="5"/>
<line x1="314" y1="1126.4" x2="335" y2="1126.4" stroke="#e7211a" stroke-width="5"/>
<line x1="314" y1="857.4" x2="335" y2="857.4" stroke="#e7211a" stroke-width="5"/>
<line x1="314" y1="588.4" x2="335" y2="588.4" stroke="#e7211a" stroke-width="5"/>
<line x1="314" y1="319.4" x2="335" y2="319.4" stroke="#e7211a" stroke-width="5"/>
<line x1="314" y1="50.4" x2="335" y2="50.4" stroke="#e7211a" stroke-width="5"/>
<line x1="316.5" y1="992" x2="326" y2="992" stroke="#e7211a" stroke-width="4.8"/>
<line x1="316.5" y1="723" x2="326" y2="723" stroke="#e7211a" stroke-width="4.8"/>
<line x1="316.5" y1="454" x2="326" y2="454" stroke="#e7211a" stroke-width="4.8"/>
<line x1="316.5" y1="185" x2="326" y2="185" stroke="#e7211a" stroke-width="4.8"/>
<line x1="1645" y1="48" x2="1645" y2="1129" stroke="#1d4ba0" stroke-width="6"/>
<line x1="1648" y1="1126.4" x2="1626" y2="1126.4" stroke="#1d4ba0" stroke-width="5"/>
<line x1="1648" y1="947.07" x2="1626" y2="947.07" stroke="#1d4ba0" stroke-width="5"/>
<line x1="1648" y1="767.73" x2="1626" y2="767.73" stroke="#1d4ba0" stroke-width="5"/>
<line x1="1648" y1="588.4" x2="1626" y2="588.4" stroke="#1d4ba0" stroke-width="5"/>
<line x1="1648" y1="409.07" x2="1626" y2="409.07" stroke="#1d4ba0" stroke-width="5"/>
<line x1="1648" y1="229.73" x2="1626" y2="229.73" stroke="#1d4ba0" stroke-width="5"/>
<line x1="1648" y1="50.4" x2="1626" y2="50.4" stroke="#1d4ba0" stroke-width="5"/>
<line x1="1645" y1="1036.83" x2="1636" y2="1036.83" stroke="#1d4ba0" stroke-width="4.8"/>
<line x1="1645" y1="857.5" x2="1636" y2="857.5" stroke="#1d4ba0" stroke-width="4.8"/>
<line x1="1645" y1="678.17" x2="1636" y2="678.17" stroke="#1d4ba0" stroke-width="4.8"/>
<line x1="1645" y1="498.83" x2="1636" y2="498.83" stroke="#1d4ba0" stroke-width="4.8"/>
<line x1="1645" y1="319.5" x2="1636" y2="319.5" stroke="#1d4ba0" stroke-width="4.8"/>
<line x1="1645" y1="140.17" x2="1636" y2="140.17" stroke="#1d4ba0" stroke-width="4.8"/>
<line x1="316.7" y1="1404.8" x2="1638.5" y2="1404.8" stroke="#000000" stroke-width="5"/>
<line x1="316.7" y1="2263.9" x2="1638.5" y2="2263.9" stroke="#000000" stroke-width="3.9"/>
<line x1="316.7" y1="2527.5" x2="1638.5" y2="2527.5" stroke="#000000" stroke-width="5"/>
<line x1="316.7" y1="2261.6" x2="316.7" y2="2530" stroke="#000000" stroke-width="5"/>
<line x1="1638.5" y1="2261.6" x2="1638.5" y2="2530" stroke="#000000" stroke-width="5"/>
<line x1="410.4" y1="2527.5" x2="410.4" y2="2508.2" stroke="#000000" stroke-width="4.8"/>
<line x1="599.6" y1="2527.5" x2="599.6" y2="2508.2" stroke="#000000" stroke-width="4.8"/>
<line x1="788.8" y1="2527.5" x2="788.8" y2="2508.2" stroke="#000000" stroke-width="4.8"/>
<line x1="978" y1="2527.5" x2="978" y2="2508.2" stroke="#000000" stroke-width="4.8"/>
<line x1="1167.2" y1="2527.5" x2="1167.2" y2="2508.2" stroke="#000000" stroke-width="4.8"/>
<line x1="1356.4" y1="2527.5" x2="1356.4" y2="2508.2" stroke="#000000" stroke-width="4.8"/>
<line x1="1545.6" y1="2527.5" x2="1545.6" y2="2508.2" stroke="#000000" stroke-width="4.8"/>
<line x1="505" y1="2527.5" x2="505" y2="2517.6" stroke="#000000" stroke-width="4.8"/>
<line x1="694.2" y1="2527.5" x2="694.2" y2="2517.6" stroke="#000000" stroke-width="4.8"/>
<line x1="883.4" y1="2527.5" x2="883.4" y2="2517.6" stroke="#000000" stroke-width="4.8"/>
<line x1="1072.6" y1="2527.5" x2="1072.6" y2="2517.6" stroke="#000000" stroke-width="4.8"/>
<line x1="1261.8" y1="2527.5" x2="1261.8" y2="2517.6" stroke="#000000" stroke-width="4.8"/>
<line x1="1451" y1="2527.5" x2="1451" y2="2517.6" stroke="#000000" stroke-width="4.8"/>
<line x1="316.7" y1="2307.7" x2="336.8" y2="2307.7" stroke="#000000" stroke-width="4.8"/>
<line x1="316.7" y1="2483.5" x2="336.8" y2="2483.5" stroke="#000000" stroke-width="4.8"/>
<path d="M465.1 2151.17a11.8 11.8 0 1 0 23.6 0a11.8 11.8 0 1 0 -23.6 0zM470.78 2150.34a11.8 11.8 0 1 0 23.6 0a11.8 11.8 0 1 0 -23.6 0zM476.45 2150.33a11.8 11.8 0 1 0 23.6 0a11.8 11.8 0 1 0 -23.6 0zM482.13 2150.64a11.8 11.8 0 1 0 23.6 0a11.8 11.8 0 1 0 -23.6 0zM487.8 2148.64a11.8 11.8 0 1 0 23.6 0a11.8 11.8 0 1 0 -23.6 0zM493.48 2148.9a11.8 11.8 0 1 0 23.6 0a11.8 11.8 0 1 0 -23.6 0zM499.16 2147.23a11.8 11.8 0 1 0 23.6 0a11.8 11.8 0 1 0 -23.6 0zM504.83 2149.45a11.8 11.8 0 1 0 23.6 0a11.8 11.8 0 1 0 -23.6 0zM510.51 2148.14a11.8 11.8 0 1 0 23.6 0a11.8 11.8 0 1 0 -23.6 0zM516.18 2148.2a11.8 11.8 0 1 0 23.6 0a11.8 11.8 0 1 0 -23.6 0zM521.86 2148.85a11.8 11.8 0 1 0 23.6 0a11.8 11.8 0 1 0 -23.6 0zM527.54 2147.97a11.8 11.8 0 1 0 23.6 0a11.8 11.8 0 1 0 -23.6 0zM533.21 2146.39a11.8 11.8 0 1 0 23.6 0a11.8 11.8 0 1 0 -23.6 0zM538.89 2146.77a11.8 11.8 0 1 0 23.6 0a11.8 11.8 0 1 0 -23.6 0zM544.56 2144.07a11.8 11.8 0 1 0 23.6 0a11.8 11.8 0 1 0 -23.6 0zM550.24 2145.41a11.8 11.8 0 1 0 23.6 0a11.8 11.8 0 1 0 -23.6 0zM555.92 2144.56a11.8 11.8 0 1 0 23.6 0a11.8 11.8 0 1 0 -23.6 0zM561.59 2142.19a11.8 11.8 0 1 0 23.6 0a11.8 11.8 0 1 0 -23.6 0zM567.27 2144.47a11.8 11.8 0 1 0 23.6 0a11.8 11.8 0 1 0 -23.6 0zM572.94 2141.66a11.8 11.8 0 1 0 23.6 0a11.8 11.8 0 1 0 -23.6 0zM578.62 2142.17a11.8 11.8 0 1 0 23.6 0a11.8 11.8 0 1 0 -23.6 0zM584.3 2140.06a11.8 11.8 0 1 0 23.6 0a11.8 11.8 0 1 0 -23.6 0zM589.97 2140.3a11.8 11.8 0 1 0 23.6 0a11.8 11.8 0 1 0 -23.6 0zM595.65 2139.25a11.8 11.8 0 1 0 23.6 0a11.8 11.8 0 1 0 -23.6 0zM601.32 2135.54a11.8 11.8 0 1 0 23.6 0a11.8 11.8 0 1 0 -23.6 0zM607 2133.05a11.8 11.8 0 1 0 23.6 0a11.8 11.8 0 1 0 -23.6 0zM612.68 2132.46a11.8 11.8 0 1 0 23.6 0a11.8 11.8 0 1 0 -23.6 0zM618.35 2131.27a11.8 11.8 0 1 0 23.6 0a11.8 11.8 0 1 0 -23.6 0zM624.03 2127.75a11.8 11.8 0 1 0 23.6 0a11.8 11.8 0 1 0 -23.6 0zM629.7 2125.15a11.8 11.8 0 1 0 23.6 0a11.8 11.8 0 1 0 -23.6 0zM635.38 2123.93a11.8 11.8 0 1 0 23.6 0a11.8 11.8 0 1 0 -23.6 0zM641.06 2118.47a11.8 11.8 0 1 0 23.6 0a11.8 11.8 0 1 0 -23.6 0zM646.73 2118.56a11.8 11.8 0 1 0 23.6 0a11.8 11.8 0 1 0 -23.6 0zM652.41 2116.12a11.8 11.8 0 1 0 23.6 0a11.8 11.8 0 1 0 -23.6 0zM658.08 2116.41a11.8 11.8 0 1 0 23.6 0a11.8 11.8 0 1 0 -23.6 0zM663.76 2114.33a11.8 11.8 0 1 0 23.6 0a11.8 11.8 0 1 0 -23.6 0zM669.44 2113.24a11.8 11.8 0 1 0 23.6 0a11.8 11.8 0 1 0 -23.6 0zM675.11 2113.57a11.8 11.8 0 1 0 23.6 0a11.8 11.8 0 1 0 -23.6 0zM680.79 2112.23a11.8 11.8 0 1 0 23.6 0a11.8 11.8 0 1 0 -23.6 0zM686.46 2113.56a11.8 11.8 0 1 0 23.6 0a11.8 11.8 0 1 0 -23.6 0zM692.14 2112.81a11.8 11.8 0 1 0 23.6 0a11.8 11.8 0 1 0 -23.6 0zM697.82 2113.06a11.8 11.8 0 1 0 23.6 0a11.8 11.8 0 1 0 -23.6 0zM703.49 2112.59a11.8 11.8 0 1 0 23.6 0a11.8 11.8 0 1 0 -23.6 0zM709.17 2113.93a11.8 11.8 0 1 0 23.6 0a11.8 11.8 0 1 0 -23.6 0zM714.84 2112.37a11.8 11.8 0 1 0 23.6 0a11.8 11.8 0 1 0 -23.6 0zM720.52 2112.18a11.8 11.8 0 1 0 23.6 0a11.8 11.8 0 1 0 -23.6 0zM726.2 2110.98a11.8 11.8 0 1 0 23.6 0a11.8 11.8 0 1 0 -23.6 0zM731.87 2108.21a11.8 11.8 0 1 0 23.6 0a11.8 11.8 0 1 0 -23.6 0zM737.55 2107.83a11.8 11.8 0 1 0 23.6 0a11.8 11.8 0 1 0 -23.6 0zM743.22 2105.6a11.8 11.8 0 1 0 23.6 0a11.8 11.8 0 1 0 -23.6 0zM748.9 2103.29a11.8 11.8 0 1 0 23.6 0a11.8 11.8 0 1 0 -23.6 0zM754.58 2100.04a11.8 11.8 0 1 0 23.6 0a11.8 11.8 0 1 0 -23.6 0zM760.25 2097.21a11.8 11.8 0 1 0 23.6 0a11.8 11.8 0 1 0 -23.6 0zM765.93 2095.34a11.8 11.8 0 1 0 23.6 0a11.8 11.8 0 1 0 -23.6 0zM771.6 2093.36a11.8 11.8 0 1 0 23.6 0a11.8 11.8 0 1 0 -23.6 0zM777.28 2086.7a11.8 11.8 0 1 0 23.6 0a11.8 11.8 0 1 0 -23.6 0zM782.96 2084.09a11.8 11.8 0 1 0 23.6 0a11.8 11.8 0 1 0 -23.6 0zM788.63 2078.85a11.8 11.8 0 1 0 23.6 0a11.8 11.8 0 1 0 -23.6 0zM794.31 2075.25a11.8 11.8 0 1 0 23.6 0a11.8 11.8 0 1 0 -23.6 0zM799.98 2069.69a11.8 11.8 0 1 0 23.6 0a11.8 11.8 0 1 0 -23.6 0zM805.66 2064.56a11.8 11.8 0 1 0 23.6 0a11.8 11.8 0 1 0 -23.6 0zM811.34 2054.41a11.8 11.8 0 1 0 23.6 0a11.8 11.8 0 1 0 -23.6 0zM817.01 2049.7a11.8 11.8 0 1 0 23.6 0a11.8 11.8 0 1 0 -23.6 0zM822.69 2041.72a11.8 11.8 0 1 0 23.6 0a11.8 11.8 0 1 0 -23.6 0zM828.36 2034.25a11.8 11.8 0 1 0 23.6 0a11.8 11.8 0 1 0 -23.6 0zM834.04 2024.43a11.8 11.8 0 1 0 23.6 0a11.8 11.8 0 1 0 -23.6 0zM839.72 2014.39a11.8 11.8 0 1 0 23.6 0a11.8 11.8 0 1 0 -23.6 0zM845.39 2004.59a11.8 11.8 0 1 0 23.6 0a11.8 11.8 0 1 0 -23.6 0zM851.07 1993.51a11.8 11.8 0 1 0 23.6 0a11.8 11.8 0 1 0 -23.6 0zM856.74 1974.99a11.8 11.8 0 1 0 23.6 0a11.8 11.8 0 1 0 -23.6 0zM862.42 1962.01a11.8 11.8 0 1 0 23.6 0a11.8 11.8 0 1 0 -23.6 0zM868.1 1945.2a11.8 11.8 0 1 0 23.6 0a11.8 11.8 0 1 0 -23.6 0zM873.77 1925.48a11.8 11.8 0 1 0 23.6 0a11.8 11.8 0 1 0 -23.6 0zM879.45 1903.82a11.8 11.8 0 1 0 23.6 0a11.8 11.8 0 1 0 -23.6 0zM885.12 1879.71a11.8 11.8 0 1 0 23.6 0a11.8 11.8 0 1 0 -23.6 0zM890.8 1855.22a11.8 11.8 0 1 0 23.6 0a11.8 11.8 0 1 0 -23.6 0zM896.48 1829.86a11.8 11.8 0 1 0 23.6 0a11.8 11.8 0 1 0 -23.6 0zM902.15 1801.03a11.8 11.8 0 1 0 23.6 0a11.8 11.8 0 1 0 -23.6 0zM907.83 1768.86a11.8 11.8 0 1 0 23.6 0a11.8 11.8 0 1 0 -23.6 0zM913.5 1734.99a11.8 11.8 0 1 0 23.6 0a11.8 11.8 0 1 0 -23.6 0zM919.18 1701.57a11.8 11.8 0 1 0 23.6 0a11.8 11.8 0 1 0 -23.6 0zM924.86 1665.98a11.8 11.8 0 1 0 23.6 0a11.8 11.8 0 1 0 -23.6 0zM930.53 1631.36a11.8 11.8 0 1 0 23.6 0a11.8 11.8 0 1 0 -23.6 0zM936.21 1596.45a11.8 11.8 0 1 0 23.6 0a11.8 11.8 0 1 0 -23.6 0zM941.88 1563.86a11.8 11.8 0 1 0 23.6 0a11.8 11.8 0 1 0 -23.6 0zM947.56 1537.44a11.8 11.8 0 1 0 23.6 0a11.8 11.8 0 1 0 -23.6 0zM953.24 1514.33a11.8 11.8 0 1 0 23.6 0a11.8 11.8 0 1 0 -23.6 0zM958.91 1501.03a11.8 11.8 0 1 0 23.6 0a11.8 11.8 0 1 0 -23.6 0zM964.59 1494.1a11.8 11.8 0 1 0 23.6 0a11.8 11.8 0 1 0 -23.6 0zM970.26 1494.08a11.8 11.8 0 1 0 23.6 0a11.8 11.8 0 1 0 -23.6 0zM975.94 1509.15a11.8 11.8 0 1 0 23.6 0a11.8 11.8 0 1 0 -23.6 0zM981.62 1531.1a11.8 11.8 0 1 0 23.6 0a11.8 11.8 0 1 0 -23.6 0zM987.29 1562.28a11.8 11.8 0 1 0 23.6 0a11.8 11.8 0 1 0 -23.6 0zM992.97 1593.83a11.8 11.8 0 1 0 23.6 0a11.8 11.8 0 1 0 -23.6 0zM998.64 1627.08a11.8 11.8 0 1 0 23.6 0a11.8 11.8 0 1 0 -23.6 0zM1004.32 1663.96a11.8 11.8 0 1 0 23.6 0a11.8 11.8 0 1 0 -23.6 0zM1010 1698.26a11.8 11.8 0 1 0 23.6 0a11.8 11.8 0 1 0 -23.6 0zM1015.67 1732.95a11.8 11.8 0 1 0 23.6 0a11.8 11.8 0 1 0 -23.6 0zM1021.35 1766.43a11.8 11.8 0 1 0 23.6 0a11.8 11.8 0 1 0 -23.6 0zM1027.02 1798.16a11.8 11.8 0 1 0 23.6 0a11.8 11.8 0 1 0 -23.6 0zM1032.7 1827.12a11.8 11.8 0 1 0 23.6 0a11.8 11.8 0 1 0 -23.6 0zM1038.38 1854.57a11.8 11.8 0 1 0 23.6 0a11.8 11.8 0 1 0 -23.6 0zM1044.05 1878.44a11.8 11.8 0 1 0 23.6 0a11.8 11.8 0 1 0 -23.6 0zM1049.73 1902.01a11.8 11.8 0 1 0 23.6 0a11.8 11.8 0 1 0 -23.6 0zM1055.4 1921.99a11.8 11.8 0 1 0 23.6 0a11.8 11.8 0 1 0 -23.6 0zM1061.08 1938.2a11.8 11.8 0 1 0 23.6 0a11.8 11.8 0 1 0 -23.6 0zM1066.76 1953.46a11.8 11.8 0 1 0 23.6 0a11.8 11.8 0 1 0 -23.6 0zM1072.43 1970.35a11.8 11.8 0 1 0 23.6 0a11.8 11.8 0 1 0 -23.6 0zM1078.11 1984.38a11.8 11.8 0 1 0 23.6 0a11.8 11.8 0 1 0 -23.6 0zM1083.78 1995.65a11.8 11.8 0 1 0 23.6 0a11.8 11.8 0 1 0 -23.6 0zM1089.46 2006.01a11.8 11.8 0 1 0 23.6 0a11.8 11.8 0 1 0 -23.6 0zM1095.14 2018.04a11.8 11.8 0 1 0 23.6 0a11.8 11.8 0 1 0 -23.6 0zM1100.81 2028.83a11.8 11.8 0 1 0 23.6 0a11.8 11.8 0 1 0 -23.6 0zM1106.49 2034.11a11.8 11.8 0 1 0 23.6 0a11.8 11.8 0 1 0 -23.6 0zM1112.16 2044.43a11.8 11.8 0 1 0 23.6 0a11.8 11.8 0 1 0 -23.6 0zM1117.84 2050.92a11.8 11.8 0 1 0 23.6 0a11.8 11.8 0 1 0 -23.6 0zM1123.52 2057.04a11.8 11.8 0 1 0 23.6 0a11.8 11.8 0 1 0 -23.6 0zM1129.19 2064.46a11.8 11.8 0 1 0 23.6 0a11.8 11.8 0 1 0 -23.6 0zM1134.87 2068.16a11.8 11.8 0 1 0 23.6 0a11.8 11.8 0 1 0 -23.6 0zM1140.54 2074.66a11.8 11.8 0 1 0 23.6 0a11.8 11.8 0 1 0 -23.6 0zM1146.22 2080.12a11.8 11.8 0 1 0 23.6 0a11.8 11.8 0 1 0 -23.6 0zM1151.9 2083.15a11.8 11.8 0 1 0 23.6 0a11.8 11.8 0 1 0 -23.6 0zM1157.57 2086.14a11.8 11.8 0 1 0 23.6 0a11.8 11.8 0 1 0 -23.6 0zM1163.25 2089.09a11.8 11.8 0 1 0 23.6 0a11.8 11.8 0 1 0 -23.6 0zM1168.92 2093.19a11.8 11.8 0 1 0 23.6 0a11.8 11.8 0 1 0 -23.6 0zM1174.6 2095.96a11.8 11.8 0 1 0 23.6 0a11.8 11.8 0 1 0 -23.6 0zM1180.28 2102.5a11.8 11.8 0 1 0 23.6 0a11.8 11.8 0 1 0 -23.6 0zM1185.95 2103.54a11.8 11.8 0 1 0 23.6 0a11.8 11.8 0 1 0 -23.6 0zM1191.63 2105.43a11.8 11.8 0 1 0 23.6 0a11.8 11.8 0 1 0 -23.6 0zM1197.3 2107.69a11.8 11.8 0 1 0 23.6 0a11.8 11.8 0 1 0 -23.6 0zM1202.98 2110.25a11.8 11.8 0 1 0 23.6 0a11.8 11.8 0 1 0 -23.6 0zM1208.66 2113.14a11.8 11.8 0 1 0 23.6 0a11.8 11.8 0 1 0 -23.6 0zM1214.33 2114.18a11.8 11.8 0 1 0 23.6 0a11.8 11.8 0 1 0 -23.6 0zM1220.01 2118.98a11.8 11.8 0 1 0 23.6 0a11.8 11.8 0 1 0 -23.6 0zM1225.68 2118.25a11.8 11.8 0 1 0 23.6 0a11.8 11.8 0 1 0 -23.6 0zM1231.36 2119.79a11.8 11.8 0 1 0 23.6 0a11.8 11.8 0 1 0 -23.6 0zM1237.04 2122.34a11.8 11.8 0 1 0 23.6 0a11.8 11.8 0 1 0 -23.6 0zM1242.71 2124.84a11.8 11.8 0 1 0 23.6 0a11.8 11.8 0 1 0 -23.6 0zM1248.39 2125.99a11.8 11.8 0 1 0 23.6 0a11.8 11.8 0 1 0 -23.6 0zM1254.06 2125.37a11.8 11.8 0 1 0 23.6 0a11.8 11.8 0 1 0 -23.6 0zM1259.74 2127.24a11.8 11.8 0 1 0 23.6 0a11.8 11.8 0 1 0 -23.6 0zM1265.42 2128.21a11.8 11.8 0 1 0 23.6 0a11.8 11.8 0 1 0 -23.6 0zM1271.09 2129.62a11.8 11.8 0 1 0 23.6 0a11.8 11.8 0 1 0 -23.6 0zM1276.77 2130.35a11.8 11.8 0 1 0 23.6 0a11.8 11.8 0 1 0 -23.6 0zM1282.44 2130.12a11.8 11.8 0 1 0 23.6 0a11.8 11.8 0 1 0 -23.6 0zM1288.12 2130.75a11.8 11.8 0 1 0 23.6 0a11.8 11.8 0 1 0 -23.6 0zM1293.8 2133.08a11.8 11.8 0 1 0 23.6 0a11.8 11.8 0 1 0 -23.6 0zM1299.47 2132.57a11.8 11.8 0 1 0 23.6 0a11.8 11.8 0 1 0 -23.6 0zM1305.15 2135.92a11.8 11.8 0 1 0 23.6 0a11.8 11.8 0 1 0 -23.6 0zM1310.82 2135.37a11.8 11.8 0 1 0 23.6 0a11.8 11.8 0 1 0 -23.6 0zM1316.5 2135.04a11.8 11.8 0 1 0 23.6 0a11.8 11.8 0 1 0 -23.6 0zM1322.18 2136.45a11.8 11.8 0 1 0 23.6 0a11.8 11.8 0 1 0 -23.6 0zM1327.85 2136.95a11.8 11.8 0 1 0 23.6 0a11.8 11.8 0 1 0 -23.6 0zM1333.53 2137.98a11.8 11.8 0 1 0 23.6 0a11.8 11.8 0 1 0 -23.6 0zM1339.2 2139.69a11.8 11.8 0 1 0 23.6 0a11.8 11.8 0 1 0 -23.6 0zM1344.88 2137.92a11.8 11.8 0 1 0 23.6 0a11.8 11.8 0 1 0 -23.6 0zM1350.56 2138.1a11.8 11.8 0 1 0 23.6 0a11.8 11.8 0 1 0 -23.6 0zM1356.23 2140.9a11.8 11.8 0 1 0 23.6 0a11.8 11.8 0 1 0 -23.6 0zM1361.91 2140.97a11.8 11.8 0 1 0 23.6 0a11.8 11.8 0 1 0 -23.6 0zM1367.58 2141.89a11.8 11.8 0 1 0 23.6 0a11.8 11.8 0 1 0 -23.6 0zM1373.26 2142.73a11.8 11.8 0 1 0 23.6 0a11.8 11.8 0 1 0 -23.6 0zM1378.94 2142.66a11.8 11.8 0 1 0 23.6 0a11.8 11.8 0 1 0 -23.6 0zM1384.61 2144.18a11.8 11.8 0 1 0 23.6 0a11.8 11.8 0 1 0 -23.6 0zM1390.29 2143.03a11.8 11.8 0 1 0 23.6 0a11.8 11.8 0 1 0 -23.6 0zM1395.96 2144.52a11.8 11.8 0 1 0 23.6 0a11.8 11.8 0 1 0 -23.6 0zM1401.64 2144.15a11.8 11.8 0 1 0 23.6 0a11.8 11.8 0 1 0 -23.6 0zM1407.32 2144.37a11.8 11.8 0 1 0 23.6 0a11.8 11.8 0 1 0 -23.6 0zM1412.99 2146.63a11.8 11.8 0 1 0 23.6 0a11.8 11.8 0 1 0 -23.6 0zM1418.67 2147.1a11.8 11.8 0 1 0 23.6 0a11.8 11.8 0 1 0 -23.6 0zM1424.34 2145.1a11.8 11.8 0 1 0 23.6 0a11.8 11.8 0 1 0 -23.6 0zM1430.02 2146.43a11.8 11.8 0 1 0 23.6 0a11.8 11.8 0 1 0 -23.6 0zM1435.7 2148.35a11.8 11.8 0 1 0 23.6 0a11.8 11.8 0 1 0 -23.6 0zM1441.37 2149.63a11.8 11.8 0 1 0 23.6 0a11.8 11.8 0 1 0 -23.6 0zM1447.05 2148.4a11.8 11.8 0 1 0 23.6 0a11.8 11.8 0 1 0 -23.6 0zM1452.72 2149.39a11.8 11.8 0 1 0 23.6 0a11.8 11.8 0 1 0 -23.6 0zM1458.4 2148.67a11.8 11.8 0 1 0 23.6 0a11.8 11.8 0 1 0 -23.6 0zM1464.08 2153.11a11.8 11.8 0 1 0 23.6 0a11.8 11.8 0 1 0 -23.6 0z" fill="#e7211a"/>
<path d="M491.1 2200.41a11.8 11.8 0 1 0 23.6 0a11.8 11.8 0 1 0 -23.6 0zM495.85 2201.4a11.8 11.8 0 1 0 23.6 0a11.8 11.8 0 1 0 -23.6 0zM500.59 2201.31a11.8 11.8 0 1 0 23.6 0a11.8 11.8 0 1 0 -23.6 0zM505.34 2202.01a11.8 11.8 0 1 0 23.6 0a11.8 11.8 0 1 0 -23.6 0zM510.08 2201.72a11.8 11.8 0 1 0 23.6 0a11.8 11.8 0 1 0 -23.6 0zM514.83 2200.41a11.8 11.8 0 1 0 23.6 0a11.8 11.8 0 1 0 -23.6 0zM519.57 2202.3a11.8 11.8 0 1 0 23.6 0a11.8 11.8 0 1 0 -23.6 0zM524.32 2201.38a11.8 11.8 0 1 0 23.6 0a11.8 11.8 0 1 0 -23.6 0zM529.06 2203.44a11.8 11.8 0 1 0 23.6 0a11.8 11.8 0 1 0 -23.6 0zM533.81 2200.27a11.8 11.8 0 1 0 23.6 0a11.8 11.8 0 1 0 -23.6 0zM538.55 2200.63a11.8 11.8 0 1 0 23.6 0a11.8 11.8 0 1 0 -23.6 0zM543.3 2202.58a11.8 11.8 0 1 0 23.6 0a11.8 11.8 0 1 0 -23.6 0zM548.04 2203.56a11.8 11.8 0 1 0 23.6 0a11.8 11.8 0 1 0 -23.6 0zM552.79 2201.71a11.8 11.8 0 1 0 23.6 0a11.8 11.8 0 1 0 -23.6 0zM557.53 2200.27a11.8 11.8 0 1 0 23.6 0a11.8 11.8 0 1 0 -23.6 0zM562.28 2201.12a11.8 11.8 0 1 0 23.6 0a11.8 11.8 0 1 0 -23.6 0zM567.02 2200.39a11.8 11.8 0 1 0 23.6 0a11.8 11.8 0 1 0 -23.6 0zM571.77 2204.06a11.8 11.8 0 1 0 23.6 0a11.8 11.8 0 1 0 -23.6 0zM576.51 2202.27a11.8 11.8 0 1 0 23.6 0a11.8 11.8 0 1 0 -23.6 0zM581.26 2202.64a11.8 11.8 0 1 0 23.6 0a11.8 11.8 0 1 0 -23.6 0zM586 2200.85a11.8 11.8 0 1 0 23.6 0a11.8 11.8 0 1 0 -23.6 0zM590.75 2199.2a11.8 11.8 0 1 0 23.6 0a11.8 11.8 0 1 0 -23.6 0zM595.49 2201.65a11.8 11.8 0 1 0 23.6 0a11.8 11.8 0 1 0 -23.6 0zM600.24 2202.07a11.8 11.8 0 1 0 23.6 0a11.8 11.8 0 1 0 -23.6 0zM604.98 2199.94a11.8 11.8 0 1 0 23.6 0a11.8 11.8 0 1 0 -23.6 0zM609.73 2198.49a11.8 11.8 0 1 0 23.6 0a11.8 11.8 0 1 0 -23.6 0zM614.47 2199.74a11.8 11.8 0 1 0 23.6 0a11.8 11.8 0 1 0 -23.6 0zM619.22 2196.84a11.8 11.8 0 1 0 23.6 0a11.8 11.8 0 1 0 -23.6 0zM623.96 2198.05a11.8 11.8 0 1 0 23.6 0a11.8 11.8 0 1 0 -23.6 0zM628.71 2195.05a11.8 11.8 0 1 0 23.6 0a11.8 11.8 0 1 0 -23.6 0zM633.46 2193.97a11.8 11.8 0 1 0 23.6 0a11.8 11.8 0 1 0 -23.6 0zM638.2 2195.74a11.8 11.8 0 1 0 23.6 0a11.8 11.8 0 1 0 -23.6 0zM642.95 2194.69a11.8 11.8 0 1 0 23.6 0a11.8 11.8 0 1 0 -23.6 0zM647.69 2196.5a11.8 11.8 0 1 0 23.6 0a11.8 11.8 0 1 0 -23.6 0zM652.44 2192.31a11.8 11.8 0 1 0 23.6 0a11.8 11.8 0 1 0 -23.6 0zM657.18 2192.11a11.8 11.8 0 1 0 23.6 0a11.8 11.8 0 1 0 -23.6 0zM661.93 2189.55a11.8 11.8 0 1 0 23.6 0a11.8 11.8 0 1 0 -23.6 0zM666.67 2187.67a11.8 11.8 0 1 0 23.6 0a11.8 11.8 0 1 0 -23.6 0zM671.42 2187.08a11.8 11.8 0 1 0 23.6 0a11.8 11.8 0 1 0 -23.6 0zM676.16 2189.91a11.8 11.8 0 1 0 23.6 0a11.8 11.8 0 1 0 -23.6 0zM680.91 2186.51a11.8 11.8 0 1 0 23.6 0a11.8 11.8 0 1 0 -23.6 0zM685.65 2189.37a11.8 11.8 0 1 0 23.6 0a11.8 11.8 0 1 0 -23.6 0zM690.4 2188.99a11.8 11.8 0 1 0 23.6 0a11.8 11.8 0 1 0 -23.6 0zM695.14 2185.36a11.8 11.8 0 1 0 23.6 0a11.8 11.8 0 1 0 -23.6 0zM699.89 2187.52a11.8 11.8 0 1 0 23.6 0a11.8 11.8 0 1 0 -23.6 0zM704.63 2184.23a11.8 11.8 0 1 0 23.6 0a11.8 11.8 0 1 0 -23.6 0zM709.38 2184.61a11.8 11.8 0 1 0 23.6 0a11.8 11.8 0 1 0 -23.6 0zM714.12 2181.32a11.8 11.8 0 1 0 23.6 0a11.8 11.8 0 1 0 -23.6 0zM718.87 2182.02a11.8 11.8 0 1 0 23.6 0a11.8 11.8 0 1 0 -23.6 0zM723.61 2177.7a11.8 11.8 0 1 0 23.6 0a11.8 11.8 0 1 0 -23.6 0zM728.36 2178.85a11.8 11.8 0 1 0 23.6 0a11.8 11.8 0 1 0 -23.6 0zM733.1 2175.57a11.8 11.8 0 1 0 23.6 0a11.8 11.8 0 1 0 -23.6 0zM737.85 2174.25a11.8 11.8 0 1 0 23.6 0a11.8 11.8 0 1 0 -23.6 0zM742.59 2173.41a11.8 11.8 0 1 0 23.6 0a11.8 11.8 0 1 0 -23.6 0zM747.34 2170.46a11.8 11.8 0 1 0 23.6 0a11.8 11.8 0 1 0 -23.6 0zM752.08 2167.76a11.8 11.8 0 1 0 23.6 0a11.8 11.8 0 1 0 -23.6 0zM756.83 2166.7a11.8 11.8 0 1 0 23.6 0a11.8 11.8 0 1 0 -23.6 0zM761.58 2164.52a11.8 11.8 0 1 0 23.6 0a11.8 11.8 0 1 0 -23.6 0zM766.32 2158.82a11.8 11.8 0 1 0 23.6 0a11.8 11.8 0 1 0 -23.6 0zM771.07 2159.73a11.8 11.8 0 1 0 23.6 0a11.8 11.8 0 1 0 -23.6 0zM775.81 2157.59a11.8 11.8 0 1 0 23.6 0a11.8 11.8 0 1 0 -23.6 0zM780.56 2152.86a11.8 11.8 0 1 0 23.6 0a11.8 11.8 0 1 0 -23.6 0zM785.3 2152.1a11.8 11.8 0 1 0 23.6 0a11.8 11.8 0 1 0 -23.6 0zM790.05 2146.62a11.8 11.8 0 1 0 23.6 0a11.8 11.8 0 1 0 -23.6 0zM794.79 2148.15a11.8 11.8 0 1 0 23.6 0a11.8 11.8 0 1 0 -23.6 0zM799.54 2142.39a11.8 11.8 0 1 0 23.6 0a11.8 11.8 0 1 0 -23.6 0zM804.28 2139.38a11.8 11.8 0 1 0 23.6 0a11.8 11.8 0 1 0 -23.6 0zM809.03 2137.91a11.8 11.8 0 1 0 23.6 0a11.8 11.8 0 1 0 -23.6 0zM813.77 2131.97a11.8 11.8 0 1 0 23.6 0a11.8 11.8 0 1 0 -23.6 0zM818.52 2129.05a11.8 11.8 0 1 0 23.6 0a11.8 11.8 0 1 0 -23.6 0zM823.26 2121.97a11.8 11.8 0 1 0 23.6 0a11.8 11.8 0 1 0 -23.6 0zM828.01 2117.9a11.8 11.8 0 1 0 23.6 0a11.8 11.8 0 1 0 -23.6 0zM832.75 2111.33a11.8 11.8 0 1 0 23.6 0a11.8 11.8 0 1 0 -23.6 0zM837.5 2107.49a11.8 11.8 0 1 0 23.6 0a11.8 11.8 0 1 0 -23.6 0zM842.24 2103.19a11.8 11.8 0 1 0 23.6 0a11.8 11.8 0 1 0 -23.6 0zM846.99 2094.98a11.8 11.8 0 1 0 23.6 0a11.8 11.8 0 1 0 -23.6 0zM851.73 2088.39a11.8 11.8 0 1 0 23.6 0a11.8 11.8 0 1 0 -23.6 0zM856.48 2076.89a11.8 11.8 0 1 0 23.6 0a11.8 11.8 0 1 0 -23.6 0zM861.22 2067.79a11.8 11.8 0 1 0 23.6 0a11.8 11.8 0 1 0 -23.6 0zM865.97 2058.16a11.8 11.8 0 1 0 23.6 0a11.8 11.8 0 1 0 -23.6 0zM870.71 2048.43a11.8 11.8 0 1 0 23.6 0a11.8 11.8 0 1 0 -23.6 0zM875.46 2035.51a11.8 11.8 0 1 0 23.6 0a11.8 11.8 0 1 0 -23.6 0zM880.2 2021.03a11.8 11.8 0 1 0 23.6 0a11.8 11.8 0 1 0 -23.6 0zM884.95 2006.76a11.8 11.8 0 1 0 23.6 0a11.8 11.8 0 1 0 -23.6 0zM889.69 1988.71a11.8 11.8 0 1 0 23.6 0a11.8 11.8 0 1 0 -23.6 0zM894.44 1970.33a11.8 11.8 0 1 0 23.6 0a11.8 11.8 0 1 0 -23.6 0zM899.19 1951.91a11.8 11.8 0 1 0 23.6 0a11.8 11.8 0 1 0 -23.6 0zM903.93 1926.23a11.8 11.8 0 1 0 23.6 0a11.8 11.8 0 1 0 -23.6 0zM908.68 1902.55a11.8 11.8 0 1 0 23.6 0a11.8 11.8 0 1 0 -23.6 0zM913.42 1877.61a11.8 11.8 0 1 0 23.6 0a11.8 11.8 0 1 0 -23.6 0zM918.17 1845.67a11.8 11.8 0 1 0 23.6 0a11.8 11.8 0 1 0 -23.6 0zM922.91 1814.97a11.8 11.8 0 1 0 23.6 0a11.8 11.8 0 1 0 -23.6 0zM927.66 1779.4a11.8 11.8 0 1 0 23.6 0a11.8 11.8 0 1 0 -23.6 0zM932.4 1748.83a11.8 11.8 0 1 0 23.6 0a11.8 11.8 0 1 0 -23.6 0zM937.15 1707.15a11.8 11.8 0 1 0 23.6 0a11.8 11.8 0 1 0 -23.6 0zM941.89 1674.95a11.8 11.8 0 1 0 23.6 0a11.8 11.8 0 1 0 -23.6 0zM946.64 1643.83a11.8 11.8 0 1 0 23.6 0a11.8 11.8 0 1 0 -23.6 0zM951.38 1621.64a11.8 11.8 0 1 0 23.6 0a11.8 11.8 0 1 0 -23.6 0zM956.13 1599.18a11.8 11.8 0 1 0 23.6 0a11.8 11.8 0 1 0 -23.6 0zM960.87 1584.93a11.8 11.8 0 1 0 23.6 0a11.8 11.8 0 1 0 -23.6 0zM965.62 1578.04a11.8 11.8 0 1 0 23.6 0a11.8 11.8 0 1 0 -23.6 0zM970.36 1583.87a11.8 11.8 0 1 0 23.6 0a11.8 11.8 0 1 0 -23.6 0zM975.11 1594.71a11.8 11.8 0 1 0 23.6 0a11.8 11.8 0 1 0 -23.6 0zM979.85 1612.12a11.8 11.8 0 1 0 23.6 0a11.8 11.8 0 1 0 -23.6 0zM984.6 1636.59a11.8 11.8 0 1 0 23.6 0a11.8 11.8 0 1 0 -23.6 0zM989.34 1668.06a11.8 11.8 0 1 0 23.6 0a11.8 11.8 0 1 0 -23.6 0zM994.09 1704.04a11.8 11.8 0 1 0 23.6 0a11.8 11.8 0 1 0 -23.6 0zM998.83 1739.49a11.8 11.8 0 1 0 23.6 0a11.8 11.8 0 1 0 -23.6 0zM1003.58 1774.48a11.8 11.8 0 1 0 23.6 0a11.8 11.8 0 1 0 -23.6 0zM1008.32 1808.55a11.8 11.8 0 1 0 23.6 0a11.8 11.8 0 1 0 -23.6 0zM1013.07 1838.86a11.8 11.8 0 1 0 23.6 0a11.8 11.8 0 1 0 -23.6 0zM1017.81 1872.76a11.8 11.8 0 1 0 23.6 0a11.8 11.8 0 1 0 -23.6 0zM1022.56 1900.4a11.8 11.8 0 1 0 23.6 0a11.8 11.8 0 1 0 -23.6 0zM1027.31 1929.9a11.8 11.8 0 1 0 23.6 0a11.8 11.8 0 1 0 -23.6 0zM1032.05 1956.09a11.8 11.8 0 1 0 23.6 0a11.8 11.8 0 1 0 -23.6 0zM1036.8 1977.16a11.8 11.8 0 1 0 23.6 0a11.8 11.8 0 1 0 -23.6 0zM1041.54 1996.62a11.8 11.8 0 1 0 23.6 0a11.8 11.8 0 1 0 -23.6 0zM1046.29 2017.62a11.8 11.8 0 1 0 23.6 0a11.8 11.8 0 1 0 -23.6 0zM1051.03 2032.59a11.8 11.8 0 1 0 23.6 0a11.8 11.8 0 1 0 -23.6 0zM1055.78 2045.36a11.8 11.8 0 1 0 23.6 0a11.8 11.8 0 1 0 -23.6 0zM1060.52 2054.4a11.8 11.8 0 1 0 23.6 0a11.8 11.8 0 1 0 -23.6 0zM1065.27 2070.68a11.8 11.8 0 1 0 23.6 0a11.8 11.8 0 1 0 -23.6 0zM1070.01 2082.21a11.8 11.8 0 1 0 23.6 0a11.8 11.8 0 1 0 -23.6 0zM1074.76 2092.47a11.8 11.8 0 1 0 23.6 0a11.8 11.8 0 1 0 -23.6 0zM1079.5 2098.19a11.8 11.8 0 1 0 23.6 0a11.8 11.8 0 1 0 -23.6 0zM1084.25 2106.08a11.8 11.8 0 1 0 23.6 0a11.8 11.8 0 1 0 -23.6 0zM1088.99 2113.56a11.8 11.8 0 1 0 23.6 0a11.8 11.8 0 1 0 -23.6 0zM1093.74 2122.17a11.8 11.8 0 1 0 23.6 0a11.8 11.8 0 1 0 -23.6 0zM1098.48 2124.98a11.8 11.8 0 1 0 23.6 0a11.8 11.8 0 1 0 -23.6 0zM1103.23 2132.22a11.8 11.8 0 1 0 23.6 0a11.8 11.8 0 1 0 -23.6 0zM1107.97 2136.01a11.8 11.8 0 1 0 23.6 0a11.8 11.8 0 1 0 -23.6 0zM1112.72 2142.62a11.8 11.8 0 1 0 23.6 0a11.8 11.8 0 1 0 -23.6 0zM1117.46 2144.02a11.8 11.8 0 1 0 23.6 0a11.8 11.8 0 1 0 -23.6 0zM1122.21 2151.08a11.8 11.8 0 1 0 23.6 0a11.8 11.8 0 1 0 -23.6 0zM1126.95 2153.33a11.8 11.8 0 1 0 23.6 0a11.8 11.8 0 1 0 -23.6 0zM1131.7 2157.12a11.8 11.8 0 1 0 23.6 0a11.8 11.8 0 1 0 -23.6 0zM1136.44 2161.38a11.8 11.8 0 1 0 23.6 0a11.8 11.8 0 1 0 -23.6 0zM1141.19 2165.13a11.8 11.8 0 1 0 23.6 0a11.8 11.8 0 1 0 -23.6 0zM1145.93 2163.1a11.8 11.8 0 1 0 23.6 0a11.8 11.8 0 1 0 -23.6 0zM1150.68 2169.72a11.8 11.8 0 1 0 23.6 0a11.8 11.8 0 1 0 -23.6 0zM1155.42 2171.14a11.8 11.8 0 1 0 23.6 0a11.8 11.8 0 1 0 -23.6 0zM1160.17 2171.77a11.8 11.8 0 1 0 23.6 0a11.8 11.8 0 1 0 -23.6 0zM1164.92 2176.38a11.8 11.8 0 1 0 23.6 0a11.8 11.8 0 1 0 -23.6 0zM1169.66 2176.27a11.8 11.8 0 1 0 23.6 0a11.8 11.8 0 1 0 -23.6 0zM1174.41 2179.81a11.8 11.8 0 1 0 23.6 0a11.8 11.8 0 1 0 -23.6 0zM1179.15 2178.47a11.8 11.8 0 1 0 23.6 0a11.8 11.8 0 1 0 -23.6 0zM1183.9 2179.61a11.8 11.8 0 1 0 23.6 0a11.8 11.8 0 1 0 -23.6 0zM1188.64 2184.43a11.8 11.8 0 1 0 23.6 0a11.8 11.8 0 1 0 -23.6 0zM1193.39 2187.33a11.8 11.8 0 1 0 23.6 0a11.8 11.8 0 1 0 -23.6 0zM1198.13 2186.2a11.8 11.8 0 1 0 23.6 0a11.8 11.8 0 1 0 -23.6 0zM1202.88 2187.86a11.8 11.8 0 1 0 23.6 0a11.8 11.8 0 1 0 -23.6 0zM1207.62 2186.85a11.8 11.8 0 1 0 23.6 0a11.8 11.8 0 1 0 -23.6 0zM1212.37 2186.59a11.8 11.8 0 1 0 23.6 0a11.8 11.8 0 1 0 -23.6 0zM1217.11 2189.36a11.8 11.8 0 1 0 23.6 0a11.8 11.8 0 1 0 -23.6 0zM1221.86 2193.05a11.8 11.8 0 1 0 23.6 0a11.8 11.8 0 1 0 -23.6 0zM1226.6 2188.52a11.8 11.8 0 1 0 23.6 0a11.8 11.8 0 1 0 -23.6 0zM1231.35 2191.47a11.8 11.8 0 1 0 23.6 0a11.8 11.8 0 1 0 -23.6 0zM1236.09 2189.91a11.8 11.8 0 1 0 23.6 0a11.8 11.8 0 1 0 -23.6 0zM1240.84 2193.8a11.8 11.8 0 1 0 23.6 0a11.8 11.8 0 1 0 -23.6 0zM1245.58 2195.62a11.8 11.8 0 1 0 23.6 0a11.8 11.8 0 1 0 -23.6 0zM1250.33 2192.78a11.8 11.8 0 1 0 23.6 0a11.8 11.8 0 1 0 -23.6 0zM1255.07 2194.62a11.8 11.8 0 1 0 23.6 0a11.8 11.8 0 1 0 -23.6 0zM1259.82 2197.86a11.8 11.8 0 1 0 23.6 0a11.8 11.8 0 1 0 -23.6 0zM1264.56 2196.03a11.8 11.8 0 1 0 23.6 0a11.8 11.8 0 1 0 -23.6 0zM1269.31 2194.59a11.8 11.8 0 1 0 23.6 0a11.8 11.8 0 1 0 -23.6 0zM1274.05 2194.85a11.8 11.8 0 1 0 23.6 0a11.8 11.8 0 1 0 -23.6 0zM1278.8 2194.1a11.8 11.8 0 1 0 23.6 0a11.8 11.8 0 1 0 -23.6 0zM1283.54 2198.91a11.8 11.8 0 1 0 23.6 0a11.8 11.8 0 1 0 -23.6 0zM1288.29 2196.81a11.8 11.8 0 1 0 23.6 0a11.8 11.8 0 1 0 -23.6 0zM1293.04 2199.98a11.8 11.8 0 1 0 23.6 0a11.8 11.8 0 1 0 -23.6 0zM1297.78 2199.97a11.8 11.8 0 1 0 23.6 0a11.8 11.8 0 1 0 -23.6 0zM1302.53 2197.78a11.8 11.8 0 1 0 23.6 0a11.8 11.8 0 1 0 -23.6 0zM1307.27 2198.22a11.8 11.8 0 1 0 23.6 0a11.8 11.8 0 1 0 -23.6 0zM1312.02 2200.52a11.8 11.8 0 1 0 23.6 0a11.8 11.8 0 1 0 -23.6 0zM1316.76 2199.71a11.8 11.8 0 1 0 23.6 0a11.8 11.8 0 1 0 -23.6 0zM1321.51 2200.07a11.8 11.8 0 1 0 23.6 0a11.8 11.8 0 1 0 -23.6 0zM1326.25 2197.15a11.8 11.8 0 1 0 23.6 0a11.8 11.8 0 1 0 -23.6 0zM1331 2201.36a11.8 11.8 0 1 0 23.6 0a11.8 11.8 0 1 0 -23.6 0zM1335.74 2198.64a11.8 11.8 0 1 0 23.6 0a11.8 11.8 0 1 0 -23.6 0zM1340.49 2196.51a11.8 11.8 0 1 0 23.6 0a11.8 11.8 0 1 0 -23.6 0zM1345.23 2199.25a11.8 11.8 0 1 0 23.6 0a11.8 11.8 0 1 0 -23.6 0zM1349.98 2200.98a11.8 11.8 0 1 0 23.6 0a11.8 11.8 0 1 0 -23.6 0zM1354.72 2203.73a11.8 11.8 0 1 0 23.6 0a11.8 11.8 0 1 0 -23.6 0zM1359.47 2199.83a11.8 11.8 0 1 0 23.6 0a11.8 11.8 0 1 0 -23.6 0zM1364.21 2198.34a11.8 11.8 0 1 0 23.6 0a11.8 11.8 0 1 0 -23.6 0zM1368.96 2203.89a11.8 11.8 0 1 0 23.6 0a11.8 11.8 0 1 0 -23.6 0zM1373.7 2200.76a11.8 11.8 0 1 0 23.6 0a11.8 11.8 0 1 0 -23.6 0zM1378.45 2200.09a11.8 11.8 0 1 0 23.6 0a11.8 11.8 0 1 0 -23.6 0zM1383.19 2198.77a11.8 11.8 0 1 0 23.6 0a11.8 11.8 0 1 0 -23.6 0zM1387.94 2198.86a11.8 11.8 0 1 0 23.6 0a11.8 11.8 0 1 0 -23.6 0zM1392.68 2202.8a11.8 11.8 0 1 0 23.6 0a11.8 11.8 0 1 0 -23.6 0zM1397.43 2199.96a11.8 11.8 0 1 0 23.6 0a11.8 11.8 0 1 0 -23.6 0zM1402.17 2199.48a11.8 11.8 0 1 0 23.6 0a11.8 11.8 0 1 0 -23.6 0zM1406.92 2199.46a11.8 11.8 0 1 0 23.6 0a11.8 11.8 0 1 0 -23.6 0zM1411.66 2202.71a11.8 11.8 0 1 0 23.6 0a11.8 11.8 0 1 0 -23.6 0zM1416.41 2199.18a11.8 11.8 0 1 0 23.6 0a11.8 11.8 0 1 0 -23.6 0zM1421.15 2201.04a11.8 11.8 0 1 0 23.6 0a11.8 11.8 0 1 0 -23.6 0zM1425.9 2200.36a11.8 11.8 0 1 0 23.6 0a11.8 11.8 0 1 0 -23.6 0z" fill="#1d4ba0"/>
<path d="M475.01 2150.86L477.52 2150.73L480.03 2150.6L482.55 2150.47L485.06 2150.34L487.57 2150.2L490.09 2150.07L492.6 2149.93L495.11 2149.79L497.63 2149.64L500.14 2149.5L502.65 2149.35L505.17 2149.2L507.68 2149.04L510.19 2148.89L512.71 2148.73L515.22 2148.57L517.73 2148.41L520.25 2148.24L522.76 2148.07L525.27 2147.9L527.78 2147.73L530.3 2147.55L532.81 2147.37L535.32 2147.19L537.84 2147L540.35 2146.81L542.86 2146.62L545.38 2146.42L547.89 2146.22L550.4 2146.01L552.92 2145.8L555.43 2145.58L557.94 2145.36L560.46 2145.13L562.97 2144.89L565.48 2144.65L568 2144.39L570.51 2144.13L573.02 2143.85L575.54 2143.56L578.05 2143.26L580.56 2142.94L583.07 2142.6L585.59 2142.24L588.1 2141.86L590.61 2141.46L593.13 2141.03L595.64 2140.57L598.15 2140.07L600.67 2139.55L603.18 2138.98L605.69 2138.38L608.21 2137.74L610.72 2137.06L613.23 2136.34L615.75 2135.57L618.26 2134.76L620.77 2133.91L623.29 2133.02L625.8 2132.1L628.31 2131.14L630.83 2130.15L633.34 2129.14L635.85 2128.11L638.36 2127.07L640.88 2126.03L643.39 2124.99L645.9 2123.96L648.42 2122.94L650.93 2121.96L653.44 2121.01L655.96 2120.1L658.47 2119.25L660.98 2118.44L663.5 2117.7L666.01 2117.02L668.52 2116.41L671.04 2115.87L673.55 2115.4L676.06 2114.99L678.58 2114.65L681.09 2114.37L683.6 2114.15L686.12 2113.97L688.63 2113.84L691.14 2113.74L693.65 2113.67L696.17 2113.61L698.68 2113.57L701.19 2113.52L703.71 2113.49L706.22 2113.47L708.73 2113.45L711.25 2113.41L713.76 2113.36L716.27 2113.27L718.79 2113.15L721.3 2112.99L723.81 2112.78L726.33 2112.52L728.84 2112.2L731.35 2111.82L733.87 2111.37L736.38 2110.87L738.89 2110.29L741.41 2109.65L743.92 2108.95L746.43 2108.2L748.94 2107.4L751.46 2106.55L753.97 2105.64L756.48 2104.69L759 2103.68L761.51 2102.63L764.02 2101.52L766.54 2100.36L769.05 2099.15L771.56 2097.89L774.08 2096.57L776.59 2095.19L779.1 2093.76L781.62 2092.27L784.13 2090.73L786.64 2089.13L789.16 2087.47L791.67 2085.76L794.18 2083.97L796.7 2082.11L799.21 2080.18L801.72 2078.18L804.23 2076.08L806.75 2073.9L809.26 2071.63L811.77 2069.26L814.29 2066.78L816.8 2064.2L819.31 2061.51L821.83 2058.71L824.34 2055.79L826.85 2052.76L829.37 2049.59L831.88 2046.29L834.39 2042.84L836.91 2039.25L839.42 2035.5L841.93 2031.59L844.45 2027.5L846.96 2023.23L849.47 2018.78L851.99 2014.15L854.5 2009.32L857.01 2004.28L859.52 1999.01L862.04 1993.49L864.55 1987.68L867.06 1981.56L869.58 1975.13L872.09 1968.35L874.6 1961.21L877.12 1953.67L879.63 1945.74L882.14 1937.43L884.66 1928.73L887.17 1919.66L889.68 1910.23L892.2 1900.43L894.71 1890.28L897.22 1879.81L899.74 1868.98L902.25 1857.77L904.76 1846.12L907.28 1834.05L909.79 1821.56L912.3 1808.65L914.82 1795.34L917.33 1781.63L919.84 1767.56L922.35 1753.14L924.87 1738.41L927.38 1723.4L929.89 1708.14L932.41 1692.67L934.92 1677.05L937.43 1661.36L939.95 1645.65L942.46 1630.02L944.97 1614.57L947.49 1599.42L950 1584.73L952.51 1570.72L955.03 1557.58L957.54 1545.41L960.05 1534.3L962.57 1524.27L965.08 1515.37L967.59 1507.73L970.11 1501.49L972.62 1496.79L975.13 1493.76L977.64 1492.54L980.16 1493.28L982.67 1496.16L985.18 1501.28L987.7 1508.58L990.21 1517.88L992.72 1528.83L995.24 1541.03L997.75 1554.05L1000.26 1567.49L1002.78 1581.43L1005.29 1596L1007.8 1611.07L1010.32 1626.52L1012.83 1642.21L1015.34 1658.05L1017.86 1673.92L1020.37 1689.75L1022.88 1705.46L1025.4 1720.97L1027.91 1736.23L1030.42 1751.19L1032.93 1765.78L1035.45 1779.95L1037.96 1793.69L1040.47 1806.99L1042.99 1819.88L1045.5 1832.36L1048.01 1844.4L1050.53 1856L1053.04 1867.15L1055.55 1877.82L1058.07 1888.01L1060.58 1897.72L1063.09 1906.91L1065.61 1915.64L1068.12 1923.94L1070.63 1931.88L1073.15 1939.48L1075.66 1946.79L1078.17 1953.83L1080.69 1960.57L1083.2 1967.04L1085.71 1973.27L1088.22 1979.3L1090.74 1985.16L1093.25 1990.79L1095.76 1996.19L1098.28 2001.38L1100.79 2006.38L1103.3 2011.18L1105.82 2015.79L1108.33 2020.2L1110.84 2024.43L1113.36 2028.49L1115.87 2032.38L1118.38 2036.13L1120.9 2039.73L1123.41 2043.2L1125.92 2046.53L1128.44 2049.74L1130.95 2052.82L1133.46 2055.78L1135.98 2058.63L1138.49 2061.36L1141 2063.97L1143.51 2066.48L1146.03 2068.87L1148.54 2071.14L1151.05 2073.3L1153.57 2075.35L1156.08 2077.33L1158.59 2079.24L1161.11 2081.1L1163.62 2082.92L1166.13 2084.72L1168.65 2086.51L1171.16 2088.26L1173.67 2089.96L1176.19 2091.61L1178.7 2093.22L1181.21 2094.77L1183.73 2096.26L1186.24 2097.71L1188.75 2099.11L1191.27 2100.47L1193.78 2101.79L1196.29 2103.06L1198.8 2104.3L1201.32 2105.5L1203.83 2106.66L1206.34 2107.79L1208.86 2108.88L1211.37 2109.93L1213.88 2110.96L1216.4 2111.94L1218.91 2112.9L1221.42 2113.82L1223.94 2114.71L1226.45 2115.57L1228.96 2116.4L1231.48 2117.2L1233.99 2117.97L1236.5 2118.72L1239.02 2119.44L1241.53 2120.13L1244.04 2120.81L1246.56 2121.46L1249.07 2122.09L1251.58 2122.7L1254.09 2123.3L1256.61 2123.87L1259.12 2124.43L1261.63 2124.97L1264.15 2125.5L1266.66 2126.02L1269.17 2126.52L1271.69 2127.02L1274.2 2127.5L1276.71 2127.97L1279.23 2128.43L1281.74 2128.89L1284.25 2129.34L1286.77 2129.78L1289.28 2130.21L1291.79 2130.65L1294.31 2131.07L1296.82 2131.5L1299.33 2131.91L1301.85 2132.32L1304.36 2132.71L1306.87 2133.1L1309.38 2133.47L1311.9 2133.84L1314.41 2134.2L1316.92 2134.56L1319.44 2134.9L1321.95 2135.24L1324.46 2135.57L1326.98 2135.9L1329.49 2136.22L1332 2136.53L1334.52 2136.84L1337.03 2137.14L1339.54 2137.44L1342.06 2137.73L1344.57 2138.02L1347.08 2138.31L1349.6 2138.59L1352.11 2138.87L1354.62 2139.14L1357.14 2139.41L1359.65 2139.68L1362.16 2139.95L1364.67 2140.21L1367.19 2140.48L1369.7 2140.74L1372.21 2141L1374.73 2141.25L1377.24 2141.51L1379.75 2141.76L1382.27 2142.01L1384.78 2142.26L1387.29 2142.5L1389.81 2142.75L1392.32 2142.99L1394.83 2143.23L1397.35 2143.47L1399.86 2143.71L1402.37 2143.95L1404.89 2144.18L1407.4 2144.42L1409.91 2144.65L1412.43 2144.89L1414.94 2145.12L1417.45 2145.35L1419.96 2145.58L1422.48 2145.81L1424.99 2146.03L1427.5 2146.26L1430.02 2146.49L1432.53 2146.72L1435.04 2146.94L1437.56 2147.17L1440.07 2147.39L1442.58 2147.62L1445.1 2147.84L1447.61 2148.07L1450.12 2148.29L1452.64 2148.52L1455.15 2148.74L1457.66 2148.97L1460.18 2149.19L1462.69 2149.41L1465.2 2149.64L1467.72 2149.86L1470.23 2150.09L1472.74 2150.31L1475.25 2150.54L1477.77 2150.76" fill="none" stroke="#000000" stroke-width="5" stroke-linejoin="round" stroke-linecap="butt"/>
<path d="M499.12 2199.37L501.47 2199.54L503.83 2199.71L506.19 2199.87L508.54 2200.02L510.9 2200.17L513.26 2200.3L515.62 2200.43L517.97 2200.56L520.33 2200.67L522.69 2200.78L525.04 2200.88L527.4 2200.97L529.76 2201.06L532.12 2201.14L534.47 2201.21L536.83 2201.27L539.19 2201.33L541.54 2201.38L543.9 2201.42L546.26 2201.45L548.61 2201.48L550.97 2201.5L553.33 2201.51L555.69 2201.52L558.04 2201.52L560.4 2201.51L562.76 2201.49L565.11 2201.47L567.47 2201.44L569.83 2201.4L572.19 2201.35L574.54 2201.3L576.9 2201.24L579.26 2201.17L581.61 2201.09L583.97 2201.01L586.33 2200.92L588.69 2200.82L591.04 2200.71L593.4 2200.6L595.76 2200.48L598.11 2200.35L600.47 2200.21L602.83 2200.07L605.18 2199.92L607.54 2199.76L609.9 2199.59L612.26 2199.41L614.61 2199.21L616.97 2198.99L619.33 2198.76L621.68 2198.52L624.04 2198.26L626.4 2197.99L628.76 2197.71L631.11 2197.42L633.47 2197.12L635.83 2196.82L638.18 2196.5L640.54 2196.18L642.9 2195.85L645.26 2195.52L647.61 2195.18L649.97 2194.84L652.33 2194.5L654.68 2194.16L657.04 2193.81L659.4 2193.47L661.75 2193.12L664.11 2192.78L666.47 2192.44L668.83 2192.1L671.18 2191.75L673.54 2191.4L675.9 2191.05L678.25 2190.7L680.61 2190.33L682.97 2189.97L685.33 2189.6L687.68 2189.22L690.04 2188.83L692.4 2188.44L694.75 2188.04L697.11 2187.63L699.47 2187.21L701.83 2186.78L704.18 2186.34L706.54 2185.89L708.9 2185.43L711.25 2184.96L713.61 2184.47L715.97 2183.97L718.32 2183.45L720.68 2182.92L723.04 2182.38L725.4 2181.81L727.75 2181.23L730.11 2180.63L732.47 2180.01L734.82 2179.37L737.18 2178.71L739.54 2178.03L741.9 2177.32L744.25 2176.53L746.61 2175.67L748.97 2174.74L751.32 2173.76L753.68 2172.73L756.04 2171.65L758.4 2170.54L760.75 2169.41L763.11 2168.26L765.47 2167.1L767.82 2165.94L770.18 2164.78L772.54 2163.64L774.89 2162.52L777.25 2161.43L779.61 2160.36L781.97 2159.26L784.32 2158.14L786.68 2156.98L789.04 2155.79L791.39 2154.57L793.75 2153.32L796.11 2152.03L798.47 2150.71L800.82 2149.35L803.18 2147.94L805.54 2146.5L807.89 2145.02L810.25 2143.49L812.61 2141.91L814.97 2140.29L817.32 2138.61L819.68 2136.87L822.04 2135.05L824.39 2133.17L826.75 2131.21L829.11 2129.17L831.46 2127.05L833.82 2124.84L836.18 2122.54L838.54 2120.15L840.89 2117.65L843.25 2115.04L845.61 2112.32L847.96 2109.48L850.32 2106.52L852.68 2103.41L855.04 2100.15L857.39 2096.73L859.75 2093.13L862.11 2089.35L864.46 2085.39L866.82 2081.22L869.18 2076.84L871.54 2072.23L873.89 2067.4L876.25 2062.31L878.61 2056.97L880.96 2051.36L883.32 2045.46L885.68 2039.27L888.03 2032.76L890.39 2025.93L892.75 2018.75L895.11 2011.23L897.46 2003.34L899.82 1995.07L902.18 1986.39L904.53 1977.27L906.89 1967.67L909.25 1957.58L911.61 1946.99L913.96 1935.86L916.32 1924.2L918.68 1911.97L921.03 1899.18L923.39 1885.81L925.75 1871.87L928.11 1857.36L930.46 1842.3L932.82 1826.71L935.18 1810.63L937.53 1794.12L939.89 1777.24L942.25 1760.07L944.6 1742.73L946.96 1725.33L949.32 1708.03L951.68 1690.99L954.03 1674.4L956.39 1658.5L958.75 1643.63L961.1 1629.96L963.46 1617.66L965.82 1606.88L968.18 1597.74L970.53 1590.39L972.89 1584.93L975.25 1581.46L977.6 1580.05L979.96 1580.76L982.32 1583.53L984.68 1588.28L987.03 1594.92L989.39 1603.4L991.75 1613.67L994.1 1625.69L996.46 1639.35L998.82 1654.22L1001.17 1670.03L1003.53 1686.6L1005.89 1703.7L1008.25 1721.15L1010.6 1738.76L1012.96 1756.39L1015.32 1773.9L1017.67 1791.18L1020.03 1808.13L1022.39 1824.7L1024.75 1840.85L1027.1 1856.53L1029.46 1871.7L1031.82 1886.44L1034.17 1900.92L1036.53 1915.01L1038.89 1928.6L1041.25 1941.62L1043.6 1954.07L1045.96 1965.88L1048.32 1976.97L1050.67 1987.3L1053.03 1997.02L1055.39 2006.17L1057.74 2014.82L1060.1 2023.04L1062.46 2030.83L1064.82 2038.23L1067.17 2045.22L1069.53 2051.83L1071.89 2058.08L1074.24 2064.03L1076.6 2069.68L1078.96 2075.05L1081.32 2080.16L1083.67 2085.03L1086.03 2089.67L1088.39 2094.09L1090.74 2098.31L1093.1 2102.33L1095.46 2106.17L1097.82 2109.85L1100.17 2113.37L1102.53 2116.73L1104.89 2119.96L1107.24 2123.06L1109.6 2126.02L1111.96 2128.87L1114.31 2131.59L1116.67 2134.21L1119.03 2136.72L1121.39 2139.13L1123.74 2141.45L1126.1 2143.67L1128.46 2145.8L1130.81 2147.84L1133.17 2149.8L1135.53 2151.68L1137.89 2153.48L1140.24 2155.21L1142.6 2156.87L1144.96 2158.45L1147.31 2159.96L1149.67 2161.4L1152.03 2162.76L1154.38 2164.06L1156.74 2165.31L1159.1 2166.5L1161.46 2167.64L1163.81 2168.73L1166.17 2169.79L1168.53 2170.81L1170.88 2171.8L1173.24 2172.76L1175.6 2173.7L1177.96 2174.62L1180.31 2175.53L1182.67 2176.43L1185.03 2177.31L1187.38 2178.17L1189.74 2179L1192.1 2179.81L1194.46 2180.59L1196.81 2181.35L1199.17 2182.09L1201.53 2182.8L1203.88 2183.5L1206.24 2184.17L1208.6 2184.83L1210.95 2185.46L1213.31 2186.08L1215.67 2186.69L1218.03 2187.27L1220.38 2187.84L1222.74 2188.39L1225.1 2188.92L1227.45 2189.42L1229.81 2189.9L1232.17 2190.37L1234.53 2190.81L1236.88 2191.23L1239.24 2191.63L1241.6 2192.02L1243.95 2192.39L1246.31 2192.75L1248.67 2193.09L1251.03 2193.41L1253.38 2193.72L1255.74 2194.02L1258.1 2194.31L1260.45 2194.58L1262.81 2194.84L1265.17 2195.1L1267.52 2195.34L1269.88 2195.57L1272.24 2195.8L1274.6 2196.01L1276.95 2196.22L1279.31 2196.42L1281.67 2196.62L1284.02 2196.81L1286.38 2197L1288.74 2197.18L1291.1 2197.36L1293.45 2197.53L1295.81 2197.7L1298.17 2197.87L1300.52 2198.03L1302.88 2198.18L1305.24 2198.33L1307.6 2198.47L1309.95 2198.6L1312.31 2198.73L1314.67 2198.85L1317.02 2198.97L1319.38 2199.08L1321.74 2199.19L1324.09 2199.29L1326.45 2199.39L1328.81 2199.48L1331.17 2199.56L1333.52 2199.64L1335.88 2199.72L1338.24 2199.79L1340.59 2199.86L1342.95 2199.93L1345.31 2199.99L1347.67 2200.04L1350.02 2200.1L1352.38 2200.15L1354.74 2200.19L1357.09 2200.24L1359.45 2200.27L1361.81 2200.31L1364.17 2200.34L1366.52 2200.37L1368.88 2200.4L1371.24 2200.42L1373.59 2200.45L1375.95 2200.46L1378.31 2200.48L1380.66 2200.49L1383.02 2200.5L1385.38 2200.5L1387.74 2200.5L1390.09 2200.5L1392.45 2200.5L1394.81 2200.49L1397.16 2200.48L1399.52 2200.47L1401.88 2200.46L1404.24 2200.44L1406.59 2200.42L1408.95 2200.4L1411.31 2200.37L1413.66 2200.34L1416.02 2200.31L1418.38 2200.28L1420.74 2200.25L1423.09 2200.21L1425.45 2200.17L1427.81 2200.13L1430.16 2200.09L1432.52 2200.04L1434.88 2199.99L1437.23 2199.94L1439.59 2199.89" fill="none" stroke="#000000" stroke-width="5" stroke-linejoin="round" stroke-linecap="butt"/>
<path d="M466.1 2388.3C469.05 2387.73 479.72 2385.6 483.8 2384.9C487.88 2384.2 486.93 2381.98 490.6 2384.1C494.27 2386.22 501.58 2397.18 505.8 2397.6C510.02 2398.02 512.23 2386.6 515.9 2386.6C519.57 2386.6 523.85 2395.2 527.8 2397.6C531.75 2400 535.38 2402.12 539.6 2401C543.82 2399.88 548.32 2391.47 553.1 2390.9C557.88 2390.33 562.93 2395.92 568.3 2397.6C573.67 2399.28 580.5 2402.4 585.3 2401C590.1 2399.6 592.6 2388.35 597.1 2389.2C601.6 2390.05 606.38 2408.08 612.3 2406.1C618.22 2404.12 627.82 2379.28 632.6 2377.3C637.38 2375.32 637.62 2390.82 641 2394.2C644.38 2397.58 648.67 2398.43 652.9 2397.6C657.13 2396.77 661.62 2388.07 666.4 2389.2C671.18 2390.33 677.08 2402.15 681.6 2404.4C686.12 2406.65 689.83 2405.8 693.5 2402.7C697.17 2399.6 699.17 2386.65 703.6 2385.8C708.03 2384.95 713.97 2397.32 720.1 2397.6C726.23 2397.88 735.88 2389.47 740.4 2387.5C744.92 2385.53 744.1 2383.27 747.2 2385.8C750.3 2388.33 753.93 2401.57 759 2402.7C764.07 2403.83 771.68 2391.75 777.6 2392.6C783.52 2393.45 788.87 2406.4 794.5 2407.8C800.13 2409.2 806.32 2403.53 811.4 2401C816.48 2398.47 821.33 2392.03 825 2392.6C828.67 2393.17 830.02 2403 833.4 2404.4C836.78 2405.8 841.35 2403.82 845.3 2401C849.25 2398.18 852.88 2387.22 857.1 2387.5C861.32 2387.78 866.65 2399.88 870.6 2402.7C874.55 2405.52 877.13 2407.22 880.8 2404.4C884.47 2401.58 888.67 2387.5 892.6 2385.8C896.53 2384.1 900.45 2392.52 904.4 2394.2C908.35 2395.88 912.07 2396.73 916.3 2395.9C920.53 2395.07 926.43 2386.93 929.8 2389.2C933.17 2391.47 933.12 2410.35 936.5 2409.5C939.88 2408.65 946.72 2386.08 950.1 2384.1C953.48 2382.12 954.55 2398.17 956.8 2397.6C959.05 2397.03 959.72 2380.7 963.6 2380.7C967.48 2380.7 975.52 2391.97 980.1 2397.6C984.68 2403.23 987.15 2415.07 991.1 2414.5C995.05 2413.93 999.15 2397.58 1003.8 2394.2C1008.45 2390.82 1014.48 2396.58 1019 2394.2C1023.52 2391.82 1027.23 2379.33 1030.9 2379.9C1034.57 2380.47 1037.07 2394.65 1041 2397.6C1044.93 2400.55 1050.55 2399 1054.5 2397.6C1058.45 2396.2 1061.88 2391.73 1064.7 2389.2C1067.52 2386.67 1068.58 2379.3 1071.4 2382.4C1074.22 2385.5 1077.65 2405.27 1081.6 2407.8C1085.55 2410.33 1090.6 2400.42 1095.1 2397.6C1099.6 2394.78 1104.65 2390.9 1108.6 2390.9C1112.55 2390.9 1115.13 2395.92 1118.8 2397.6C1122.47 2399.28 1125.53 2402.97 1130.6 2401C1135.67 2399.03 1144.13 2386.93 1149.2 2385.8C1154.27 2384.67 1155.65 2392.8 1161 2394.2C1166.35 2395.6 1175.65 2394.47 1181.3 2394.2C1186.95 2393.93 1189.27 2391.75 1194.9 2392.6C1200.53 2393.45 1204.47 2397.9 1215.1 2399.3C1225.73 2400.7 1250.02 2401.42 1258.7 2401C1267.38 2400.58 1264.1 2397.37 1267.2 2396.8C1270.3 2396.23 1270.82 2397.18 1277.3 2397.6C1283.78 2398.02 1297.63 2401.83 1306.1 2399.3C1314.57 2396.77 1322.18 2382.68 1328.1 2382.4C1334.02 2382.12 1335.97 2396.47 1341.6 2397.6C1347.23 2398.73 1355.13 2389.77 1361.9 2389.2C1368.67 2388.63 1376 2392.93 1382.2 2394.2C1388.4 2395.47 1395.17 2398.2 1399.1 2396.8C1403.03 2395.4 1402.15 2385.67 1405.8 2385.8C1409.45 2385.93 1415.37 2397.6 1421 2397.6C1426.63 2397.6 1435.08 2385.8 1439.6 2385.8C1444.12 2385.8 1445.13 2393.65 1448.1 2397.6C1451.07 2401.55 1454.3 2409.07 1457.4 2409.5C1460.5 2409.93 1464.3 2401.62 1466.7 2400.2C1469.1 2398.78 1469.97 2402.7 1471.8 2401C1473.63 2399.3 1476.72 2391.83 1477.7 2390" fill="none" stroke="#e7211a" stroke-width="8.3" stroke-linejoin="round" stroke-linecap="round"/>
<path d="M466.1 2388.3C467.08 2389.02 470.45 2393.58 472 2392.6C473.55 2391.62 473.57 2378.47 475.4 2382.4C477.23 2386.33 480.62 2415.63 483 2416.2C485.38 2416.77 487.65 2387.63 489.7 2385.8C491.75 2383.97 493.47 2404.92 495.3 2405.2C497.13 2405.48 497.97 2385.8 500.7 2387.5C503.43 2389.2 506.9 2417.65 511.7 2415.4C516.5 2413.15 525.13 2374.28 529.5 2374C533.87 2373.72 535.65 2410.05 537.9 2413.7C540.15 2417.35 541.03 2398.02 543 2395.9C544.97 2393.78 547.17 2397.9 549.7 2401C552.23 2404.1 555.37 2419.43 558.2 2414.5C561.03 2409.57 564.02 2372.8 566.7 2371.4C569.38 2370 571.2 2403.57 574.3 2406.1C577.4 2408.63 581.92 2386.75 585.3 2386.6C588.68 2386.45 590.38 2407.73 594.6 2405.2C598.82 2402.67 606.8 2371.95 610.6 2371.4C614.4 2370.85 614.58 2396.68 617.4 2401.9C620.22 2407.12 623.57 2408.77 627.5 2402.7C631.43 2396.63 637.33 2368.03 641 2365.5C644.67 2362.97 647.23 2385.1 649.5 2387.5C651.77 2389.9 652.63 2373 654.6 2379.9C656.57 2386.8 659.05 2427.22 661.3 2428.9C663.55 2430.58 665 2398.45 668.1 2390C671.2 2381.55 676.8 2376.93 679.9 2378.2C683 2379.47 683.32 2394.22 686.7 2397.6C690.08 2400.98 695.7 2401.32 700.2 2398.5C704.7 2395.68 710.23 2376.77 713.7 2380.7C717.17 2384.63 718.52 2420.83 721 2422.1C723.48 2423.37 726.35 2390.83 728.6 2388.3C730.85 2385.77 732.25 2404.5 734.5 2406.9C736.75 2409.3 739.7 2401.43 742.1 2402.7C744.5 2403.97 746.5 2417.03 748.9 2414.5C751.3 2411.97 753.27 2386.23 756.5 2387.5C759.73 2388.77 765.48 2418.72 768.3 2422.1C771.12 2425.48 771.57 2406.95 773.4 2407.8C775.23 2408.65 777.05 2431.43 779.3 2427.2C781.55 2422.97 782.95 2381.55 786.9 2382.4C790.85 2383.25 799.33 2429.48 803 2432.3C806.67 2435.12 806.93 2405.78 808.9 2399.3C810.87 2392.82 812.68 2399.32 814.8 2393.4C816.92 2387.48 819.35 2369.15 821.6 2363.8C823.85 2358.45 825.9 2354.82 828.3 2361.3C830.7 2367.78 833.73 2398.48 836 2402.7C838.27 2406.92 839.93 2386.88 841.9 2386.6C843.87 2386.32 845.55 2400 847.8 2401C850.05 2402 852.45 2397.38 855.4 2392.6C858.35 2387.82 862.97 2375.4 865.5 2372.3C868.03 2369.2 868.62 2369.63 870.6 2374C872.58 2378.37 875.15 2397.23 877.4 2398.5C879.65 2399.77 881.85 2380.33 884.1 2381.6C886.35 2382.87 887.52 2406.25 890.9 2406.1C894.28 2405.95 900.73 2385.22 904.4 2380.7C908.07 2376.18 910.63 2381.82 912.9 2379C915.17 2376.18 916.03 2357.32 918 2363.8C919.97 2370.28 922.45 2415.65 924.7 2417.9C926.95 2420.15 929.25 2384.77 931.5 2377.3C933.75 2369.83 935.95 2361.53 938.2 2373.1C940.45 2384.67 942.45 2444.3 945 2446.7C947.55 2449.1 951.1 2390.88 953.5 2387.5C955.9 2384.12 957.15 2420.77 959.4 2426.4C961.65 2432.03 964.1 2432.02 967 2421.3C969.9 2410.58 973.9 2365.77 976.8 2362.1C979.7 2358.43 982.15 2396.2 984.4 2399.3C986.65 2402.4 988.33 2381.27 990.3 2380.7C992.27 2380.13 993.38 2396.88 996.2 2395.9C999.02 2394.92 1003.97 2376.2 1007.2 2374.8C1010.43 2373.4 1012.22 2383.7 1015.6 2387.5C1018.98 2391.3 1024.25 2390.83 1027.5 2397.6C1030.75 2404.37 1032.57 2430.07 1035.1 2428.1C1037.63 2426.13 1040.45 2387.5 1042.7 2385.8C1044.95 2384.1 1046.48 2417.33 1048.6 2417.9C1050.72 2418.47 1053.15 2387.23 1055.4 2389.2C1057.65 2391.17 1059.98 2427.17 1062.1 2429.7C1064.22 2432.23 1065.98 2406.93 1068.1 2404.4C1070.22 2401.87 1072.7 2419.43 1074.8 2414.5C1076.9 2409.57 1078.72 2376.35 1080.7 2374.8C1082.68 2373.25 1084.58 2404.63 1086.7 2405.2C1088.82 2405.77 1089.6 2376.65 1093.4 2378.2C1097.2 2379.75 1105.55 2414.08 1109.5 2414.5C1113.45 2414.92 1114.85 2382.67 1117.1 2380.7C1119.35 2378.73 1120.75 2401.28 1123 2402.7C1125.25 2404.12 1128.2 2391.6 1130.6 2389.2C1133 2386.8 1135.43 2386.05 1137.4 2388.3C1139.37 2390.55 1140.02 2400.43 1142.4 2402.7C1144.78 2404.97 1149.02 2405.7 1151.7 2401.9C1154.38 2398.1 1156.38 2377.93 1158.5 2379.9C1160.62 2381.87 1161.87 2413.85 1164.4 2413.7C1166.93 2413.55 1170.88 2380.42 1173.7 2379C1176.52 2377.58 1178.62 2405.48 1181.3 2405.2C1183.98 2404.92 1186.83 2375.88 1189.8 2377.3C1192.77 2378.72 1196.28 2413.27 1199.1 2413.7C1201.92 2414.13 1204.17 2380.32 1206.7 2379.9C1209.23 2379.48 1212.05 2406.83 1214.3 2411.2C1216.55 2415.57 1218.08 2411.75 1220.2 2406.1C1222.32 2400.45 1224.88 2378.72 1227 2377.3C1229.12 2375.88 1231.27 2395.9 1232.9 2397.6C1234.53 2399.3 1235.17 2385.38 1236.8 2387.5C1238.43 2389.62 1240.87 2409.45 1242.7 2410.3C1244.53 2411.15 1246.12 2393.3 1247.8 2392.6C1249.48 2391.9 1250.7 2406.95 1252.8 2406.1C1254.9 2405.25 1256.6 2393.42 1260.4 2387.5C1264.2 2381.58 1271.65 2366.1 1275.6 2370.6C1279.55 2375.1 1281.27 2413.38 1284.1 2414.5C1286.93 2415.62 1289.78 2380.4 1292.6 2377.3C1295.42 2374.2 1298.75 2394.48 1301 2395.9C1303.25 2397.32 1303.98 2384.8 1306.1 2385.8C1308.22 2386.8 1311.03 2402.05 1313.7 2401.9C1316.37 2401.75 1319.57 2383.63 1322.1 2384.9C1324.63 2386.17 1326.78 2409.35 1328.9 2409.5C1331.02 2409.65 1332.68 2385.25 1334.8 2385.8C1336.92 2386.35 1339.2 2414.35 1341.6 2412.8C1344 2411.25 1346.8 2377.2 1349.2 2376.5C1351.6 2375.8 1353.88 2405.65 1356 2408.6C1358.12 2411.55 1360.22 2395.6 1361.9 2394.2C1363.58 2392.8 1364.27 2403.15 1366.1 2400.2C1367.93 2397.25 1369.67 2373.27 1372.9 2376.5C1376.13 2379.73 1382.27 2416.78 1385.5 2419.6C1388.73 2422.42 1389.9 2392.27 1392.3 2393.4C1394.7 2394.53 1396.67 2429.22 1399.9 2426.4C1403.13 2423.58 1408.45 2377.63 1411.7 2376.5C1414.95 2375.37 1417.28 2415.8 1419.4 2419.6C1421.52 2423.4 1422.72 2399.02 1424.4 2399.3C1426.08 2399.58 1427.23 2421.58 1429.5 2421.3C1431.77 2421.02 1435.03 2406.05 1438 2397.6C1440.97 2389.15 1444.77 2372.57 1447.3 2370.6C1449.83 2368.63 1451.23 2385.95 1453.2 2385.8C1455.17 2385.65 1457.13 2369.13 1459.1 2369.7C1461.07 2370.27 1462.88 2388.63 1465 2389.2C1467.12 2389.77 1470.67 2375.78 1471.8 2373.1" fill="none" stroke="#1d4ba0" stroke-width="8.3" stroke-linejoin="round" stroke-linecap="round"/>
<circle cx="412.3" cy="1558.5" r="12.5" fill="#e7211a"/>
<line x1="375.1" y1="1655" x2="450.2" y2="1655" stroke="#000000" stroke-width="5.2"/>
<circle cx="425.2" cy="1833.9" r="12.5" fill="#1d4ba0"/>
<line x1="350.3" y1="1930.3" x2="499.7" y2="1930.3" stroke="#000000" stroke-width="5.2"/>
<line x1="316.7" y1="1402.3" x2="316.7" y2="2261.6" stroke="#e7211a" stroke-width="5"/>
<line x1="314.2" y1="1404.4" x2="337" y2="1404.4" stroke="#e7211a" stroke-width="5.6"/>
<line x1="314.2" y1="1595.1" x2="337" y2="1595.1" stroke="#e7211a" stroke-width="5.6"/>
<line x1="314.2" y1="1785.8" x2="337" y2="1785.8" stroke="#e7211a" stroke-width="5.6"/>
<line x1="314.2" y1="1976.5" x2="337" y2="1976.5" stroke="#e7211a" stroke-width="5.6"/>
<line x1="314.2" y1="2167.2" x2="337" y2="2167.2" stroke="#e7211a" stroke-width="5.6"/>
<line x1="316.7" y1="1500.15" x2="326" y2="1500.15" stroke="#e7211a" stroke-width="4.8"/>
<line x1="316.7" y1="1690.85" x2="326" y2="1690.85" stroke="#e7211a" stroke-width="4.8"/>
<line x1="316.7" y1="1881.55" x2="326" y2="1881.55" stroke="#e7211a" stroke-width="4.8"/>
<line x1="316.7" y1="2072.25" x2="326" y2="2072.25" stroke="#e7211a" stroke-width="4.8"/>
<line x1="314.2" y1="2263.45" x2="326" y2="2263.45" stroke="#e7211a" stroke-width="4.8"/>
<line x1="1638.5" y1="1402.3" x2="1638.5" y2="2266.6" stroke="#1d4ba0" stroke-width="5"/>
<line x1="1641" y1="1404.8" x2="1626.5" y2="1404.8" stroke="#1d4ba0" stroke-width="4.8"/>
<line x1="1638.5" y1="1489.2" x2="1619" y2="1489.2" stroke="#1d4ba0" stroke-width="4.8"/>
<line x1="1638.5" y1="1661.38" x2="1619" y2="1661.38" stroke="#1d4ba0" stroke-width="4.8"/>
<line x1="1638.5" y1="1833.56" x2="1619" y2="1833.56" stroke="#1d4ba0" stroke-width="4.8"/>
<line x1="1638.5" y1="2005.74" x2="1619" y2="2005.74" stroke="#1d4ba0" stroke-width="4.8"/>
<line x1="1638.5" y1="2177.92" x2="1619" y2="2177.92" stroke="#1d4ba0" stroke-width="4.8"/>
<line x1="1638.5" y1="1575.29" x2="1628.3" y2="1575.29" stroke="#1d4ba0" stroke-width="4.8"/>
<line x1="1638.5" y1="1747.47" x2="1628.3" y2="1747.47" stroke="#1d4ba0" stroke-width="4.8"/>
<line x1="1638.5" y1="1919.65" x2="1628.3" y2="1919.65" stroke="#1d4ba0" stroke-width="4.8"/>
<line x1="1638.5" y1="2091.83" x2="1628.3" y2="2091.83" stroke="#1d4ba0" stroke-width="4.8"/>
<line x1="1638.5" y1="2264.01" x2="1628.3" y2="2264.01" stroke="#1d4ba0" stroke-width="4.8"/>
<g stroke="#fff" stroke-width="0.4" stroke-linejoin="round">
<text transform="matrix(1.1068 0 0.0000 0.9850 231.76 67.45)" font-size="60" fill="#e7211a">60</text>
<text transform="matrix(1.1274 0 0.0000 0.9850 230.57 336.45)" font-size="60" fill="#e7211a">50</text>
<text transform="matrix(1.0821 0 0.0000 0.9850 233.18 605.45)" font-size="60" fill="#e7211a">40</text>
<text transform="matrix(1.1119 0 0.0000 0.9850 231.46 874.45)" font-size="60" fill="#e7211a">30</text>
<text transform="matrix(1.1068 0 0.0000 0.9850 231.76 1143.45)" font-size="60" fill="#e7211a">20</text>
<text transform="matrix(1.1086 0 0.0000 0.9912 1664.50 67.45)" font-size="60" fill="#1d4ba0">16</text>
<text transform="matrix(1.1192 0 0.0000 0.9912 1664.44 246.65)" font-size="60" fill="#1d4ba0">15</text>
<text transform="matrix(1.0930 0 0.0000 1.0038 1664.59 426.45)" font-size="60" fill="#1d4ba0">14</text>
<text transform="matrix(1.1192 0 0.0000 0.9912 1664.44 605.25)" font-size="60" fill="#1d4ba0">13</text>
<text transform="matrix(1.1412 0 0.0000 1.0038 1664.32 784.75)" font-size="60" fill="#1d4ba0">12</text>
<text transform="matrix(1.1340 0 0.0000 1.0038 1664.36 963.65)" font-size="60" fill="#1d4ba0">11</text>
<text transform="matrix(1.1192 0 0.0000 0.9850 1664.44 1142.95)" font-size="60" fill="#1d4ba0">10</text>
<text transform="matrix(1.1192 0 0.0000 1.0100 285.94 1189.75)" font-size="60" fill="#000000">70</text>
<text transform="matrix(1.1474 0 0.0000 1.0650 614.22 1190.03)" font-size="60" fill="#000000">75</text>
<text transform="matrix(1.1055 0 0.0000 1.0175 946.04 1187.45)" font-size="60" fill="#000000">80</text>
<text transform="matrix(1.1091 0 0.0000 1.0175 1279.03 1187.45)" font-size="60" fill="#000000">85</text>
<text transform="matrix(1.1059 0 0.0000 1.0075 1613.01 1186.75)" font-size="60" fill="#000000">90</text>
<text transform="matrix(1.2350 0 0.0000 1.0616 797.30 1270.33)" font-size="60" fill="#000000">Current</text>
<text transform="matrix(0.8000 0 -0.3250 1.4500 1029.66 1282.48)" font-size="60" fill="#000000" stroke="none">/</text>
<text transform="matrix(1.1168 0 0.0000 1.0548 1060.02 1269.36)" font-size="60" fill="#000000">mA</text>
<text transform="matrix(1.0267 0 0.0000 1.1047 1524.98 140.47)" font-size="60" fill="#000000">(</text>
<text transform="matrix(1.2516 0 0.0000 0.9664 1546.98 139.76)" font-size="60" fill="#000000">a</text>
<text transform="matrix(1.0847 0 0.0000 1.1099 1581.16 140.40)" font-size="60" fill="#000000">)</text>
<text transform="matrix(1.3271 0 0.0000 1.0168 401.16 394.45)" font-size="60" fill="#000000" font-style="italic">T</text>
<text transform="matrix(1.5382 0 0.0000 1.0690 458.10 401.43)" font-size="60" fill="#000000">=</text>
<text transform="matrix(1.1209 0 0.0000 1.0150 522.02 395.15)" font-size="60" fill="#000000">298</text>
<text transform="matrix(1.1284 0 0.0000 1.0013 644.84 394.45)" font-size="60" fill="#000000">K</text>
<text transform="matrix(1.2486 0 0.0000 1.0013 399.70 473.35)" font-size="60" fill="#000000" font-style="italic">P</text>
<text transform="matrix(1.5345 0 0.0000 1.0690 451.11 480.33)" font-size="60" fill="#000000">=</text>
<text transform="matrix(1.1337 0 0.0000 0.9938 517.46 473.20)" font-size="60" fill="#000000">100.9</text>
<text transform="matrix(1.2524 0 0.0000 0.9653 692.63 472.86)" font-size="60" fill="#000000">kPa</text>
<text transform="matrix(1.2154 0 0.0000 1.0792 392.36 802.73)" font-size="60" fill="#e7211a">CO</text>
<text transform="matrix(1.1758 0 0.0000 1.0679 489.75 810.47)" font-size="42" fill="#e7211a">2</text>
<text transform="matrix(1.4281 0 0.0000 1.8105 526.84 822.26)" font-size="60" fill="#e7211a">~</text>
<text transform="matrix(1.1112 0 0.0000 1.0575 584.27 802.74)" font-size="60" fill="#e7211a">385</text>
<text transform="matrix(1.1866 0 0.0000 0.9037 708.22 800.10)" font-size="60" fill="#e7211a">ppm</text>
<text transform="matrix(1.1682 0 0.0000 1.0239 1134.99 790.54)" font-size="60" fill="#1d4ba0">CH</text>
<text transform="matrix(1.0545 0 0.0000 1.0312 1232.05 799.46)" font-size="42" fill="#1d4ba0">4</text>
<text transform="matrix(1.4632 0 0.0000 1.8105 1267.67 812.26)" font-size="60" fill="#1d4ba0">~</text>
<text transform="matrix(1.1600 0 0.0000 1.0325 1325.32 791.48)" font-size="60" fill="#1d4ba0">1.7</text>
<text transform="matrix(1.1856 0 0.0000 0.9259 1435.12 789.83)" font-size="60" fill="#1d4ba0">ppm</text>
<text transform="matrix(0 -1 1 0 0 0) matrix(1.3459 0 0.0000 0.8557 -693.87 181.21)" font-size="60" fill="#e7211a" font-style="italic" stroke-width="1.6" font-family='"Liberation Sans", sans-serif'>τ</text>
<text transform="matrix(0 -1 1 0 0 0) matrix(1.1615 0 0.0000 1.0667 -664.42 196.83)" font-size="42" fill="#e7211a">CO</text>
<text transform="matrix(0 -1 1 0 0 0) matrix(1.0553 0 0.0000 0.9846 -594.78 202.15)" font-size="30" fill="#e7211a">2</text>
<text transform="matrix(0 -1 1 0 0 0) matrix(0.8000 0 -0.2900 1.4575 -575.15 193.67)" font-size="60" fill="#e7211a" stroke="none">/</text>
<text transform="matrix(0 -1 1 0 0 0) matrix(1.0694 0 0.0000 0.9182 -548.35 180.12)" font-size="60" fill="#e7211a">μ</text>
<text transform="matrix(0 -1 1 0 0 0) matrix(1.1726 0 0.0000 0.8779 -515.92 179.68)" font-size="60" fill="#e7211a">s</text>
<text transform="matrix(0 -1 1 0 0 0) matrix(1.3553 0 0.0000 0.8590 -691.40 1817.21)" font-size="60" fill="#1d4ba0" font-style="italic" stroke-width="1.6" font-family='"Liberation Sans", sans-serif'>τ</text>
<text transform="matrix(0 -1 1 0 0 0) matrix(1.1073 0 0.0000 1.0378 -659.61 1824.34)" font-size="42" fill="#1d4ba0">CH</text>
<text transform="matrix(0 -1 1 0 0 0) matrix(1.1259 0 0.0000 1.0130 -593.14 1830.75)" font-size="30" fill="#1d4ba0">4</text>
<text transform="matrix(0 -1 1 0 0 0) matrix(0.8000 0 -0.3050 1.4575 -573.55 1829.77)" font-size="60" fill="#1d4ba0" stroke="none">/</text>
<text transform="matrix(0 -1 1 0 0 0) matrix(0.9306 0 0.0000 0.9358 -546.25 1816.30)" font-size="60" fill="#1d4ba0">μ</text>
<text transform="matrix(0 -1 1 0 0 0) matrix(1.1123 0 0.0000 0.8956 -512.56 1815.88)" font-size="60" fill="#1d4ba0">s</text>
<text transform="matrix(1.1267 0 0.0000 0.9875 212.70 1427.11)" font-size="60" fill="#e7211a">1.4</text>
<text transform="matrix(1.1652 0 0.0000 0.9575 212.49 1613.72)" font-size="60" fill="#e7211a">1.2</text>
<text transform="matrix(1.1478 0 0.0000 0.9689 212.59 1802.62)" font-size="60" fill="#e7211a">1.0</text>
<text transform="matrix(1.1357 0 0.0000 0.9689 212.86 1999.52)" font-size="60" fill="#e7211a">0.8</text>
<text transform="matrix(1.1348 0 0.0000 0.9888 212.96 2188.31)" font-size="60" fill="#e7211a">0.6</text>
<text transform="matrix(1.1525 0 0.0000 0.9963 1661.14 1516.80)" font-size="60" fill="#1d4ba0">3.0</text>
<text transform="matrix(1.1498 0 0.0000 0.9540 1661.04 1685.82)" font-size="60" fill="#1d4ba0">2.8</text>
<text transform="matrix(1.1416 0 0.0000 1.0000 1661.06 1857.50)" font-size="60" fill="#1d4ba0">2.6</text>
<text transform="matrix(1.1296 0 0.0000 0.9750 1661.09 2026.51)" font-size="60" fill="#1d4ba0">2.4</text>
<text transform="matrix(1.1665 0 0.0000 0.9575 1660.99 2195.52)" font-size="60" fill="#1d4ba0">2.2</text>
<text transform="matrix(1.1129 0 0.0000 0.9789 179.72 2328.31)" font-size="60" fill="#000000">0.01</text>
<text transform="matrix(1.3857 0 0.0000 1.0000 126.84 2510.00)" font-size="60" fill="#000000" stroke="none">−</text>
<text transform="matrix(1.1129 0 0.0000 0.9963 179.72 2505.60)" font-size="60" fill="#000000">0.01</text>
<text transform="matrix(1.4107 0 0.0000 1.0000 360.17 2591.80)" font-size="60" fill="#000000" stroke="none">−</text>
<text transform="matrix(1.1617 0 0.0000 1.0087 412.20 2591.50)" font-size="60" fill="#000000">0.6</text>
<text transform="matrix(1.4107 0 0.0000 1.0000 546.17 2591.80)" font-size="60" fill="#000000" stroke="none">−</text>
<text transform="matrix(1.1607 0 0.0000 1.0087 598.20 2591.50)" font-size="60" fill="#000000">0.4</text>
<text transform="matrix(1.4107 0 0.0000 1.0000 730.27 2591.80)" font-size="60" fill="#000000" stroke="none">−</text>
<text transform="matrix(1.1870 0 0.0000 1.0087 782.23 2591.50)" font-size="60" fill="#000000">0.2</text>
<text transform="matrix(1.1520 0 0.0000 1.0075 972.32 2591.25)" font-size="60" fill="#000000">0</text>
<text transform="matrix(1.1638 0 0.0000 0.9764 1128.69 2590.01)" font-size="60" fill="#000000">0.2</text>
<text transform="matrix(1.1326 0 0.0000 0.9764 1314.97 2590.01)" font-size="60" fill="#000000">0.4</text>
<text transform="matrix(1.1319 0 0.0000 1.0012 1502.97 2591.00)" font-size="60" fill="#000000">0.6</text>
<text transform="matrix(1.0533 0 0.0000 1.1234 1502.60 1487.74)" font-size="60" fill="#000000">(</text>
<text transform="matrix(1.2110 0 0.0000 0.9772 1527.30 1486.16)" font-size="60" fill="#000000">b</text>
<text transform="matrix(1.0712 0 0.0000 1.1286 1563.99 1487.67)" font-size="60" fill="#000000">)</text>
<text transform="matrix(1.1553 0 0.0000 1.0051 476.39 1579.30)" font-size="60" fill="#000000">Meas.</text>
<text transform="matrix(1.0097 0 0.0000 0.6667 645.80 1587.73)" font-size="60" fill="#000000" stroke="none">_</text>
<text transform="matrix(1.2244 0 0.0000 1.1019 674.73 1581.72)" font-size="60" fill="#000000">CO</text>
<text transform="matrix(1.1333 0 0.0000 1.0018 774.53 1588.55)" font-size="42" fill="#000000">2</text>
<text transform="matrix(1.2669 0 0.0000 1.0239 476.17 1677.54)" font-size="60" fill="#000000">Fit</text>
<text transform="matrix(0.9806 0 0.0000 0.6667 565.29 1683.73)" font-size="60" fill="#000000" stroke="none">_</text>
<text transform="matrix(1.2154 0 0.0000 1.1019 594.06 1678.82)" font-size="60" fill="#000000">CO</text>
<text transform="matrix(1.1333 0 0.0000 0.9982 693.13 1685.55)" font-size="42" fill="#000000">2</text>
<text transform="matrix(1.1604 0 0.0000 0.9975 515.48 1857.10)" font-size="60" fill="#000000">Meas.</text>
<text transform="matrix(1.0000 0 0.0000 0.6667 684.30 1865.03)" font-size="60" fill="#000000" stroke="none">_</text>
<text transform="matrix(1.1847 0 0.0000 1.0566 713.34 1858.64)" font-size="60" fill="#000000">CH</text>
<text transform="matrix(1.0545 0 0.0000 1.0349 811.75 1867.96)" font-size="42" fill="#000000">4</text>
<text transform="matrix(1.2529 0 0.0000 1.0013 515.29 1956.65)" font-size="60" fill="#000000">Fit</text>
<text transform="matrix(1.0097 0 0.0000 0.6667 603.50 1963.73)" font-size="60" fill="#000000" stroke="none">_</text>
<text transform="matrix(1.1758 0 0.0000 1.0566 632.67 1957.14)" font-size="60" fill="#000000">CH</text>
<text transform="matrix(1.0545 0 0.0000 1.0312 730.35 1965.56)" font-size="42" fill="#000000">4</text>
<text transform="matrix(1.1768 0 0.0000 1.0868 1095.40 1598.33)" font-size="60" fill="#e7211a">SNR</text>
<text transform="matrix(0.9903 0 0.0000 0.6667 1233.90 1604.43)" font-size="60" fill="#e7211a" stroke="none">_</text>
<text transform="matrix(1.1962 0 0.0000 1.1170 1263.61 1598.92)" font-size="60" fill="#e7211a">CO</text>
<text transform="matrix(1.1394 0 0.0000 1.0312 1363.22 1606.66)" font-size="42" fill="#e7211a">2</text>
<text transform="matrix(1.2000 0 0.0000 0.9333 1385.50 1596.53)" font-size="60" fill="#e7211a">:</text>
<text transform="matrix(1.1321 0 0.0000 1.0175 1427.57 1598.35)" font-size="60" fill="#e7211a">1000</text>
<text transform="matrix(1.1715 0 0.0000 1.0868 1115.72 1879.93)" font-size="60" fill="#1d4ba0">SNR</text>
<text transform="matrix(1.0000 0 0.0000 0.6667 1253.60 1886.03)" font-size="60" fill="#1d4ba0" stroke="none">_</text>
<text transform="matrix(1.1643 0 0.0000 1.0566 1283.40 1878.74)" font-size="60" fill="#1d4ba0">CH</text>
<text transform="matrix(1.0597 0 0.0000 1.0349 1381.04 1888.26)" font-size="42" fill="#1d4ba0">4</text>
<text transform="matrix(1.2462 0 0.0000 0.8772 1403.17 1878.16)" font-size="60" fill="#1d4ba0">:</text>
<text transform="matrix(1.1117 0 0.0000 1.0390 1446.23 1879.94)" font-size="60" fill="#1d4ba0">464</text>
<text transform="matrix(1.3046 0 0.0000 1.0541 368.00 2326.44)" font-size="60" fill="#e7211a" font-style="italic">RMSE</text>
<text transform="matrix(1.5825 0 0.0000 1.2460 582.54 2332.11)" font-size="60" fill="#e7211a">≈</text>
<text transform="matrix(1.1411 0 0.0000 1.0477 648.45 2326.96)" font-size="60" fill="#e7211a">7</text>
<text transform="matrix(1.4400 0 0.0000 1.4316 685.40 2334.45)" font-size="60" fill="#e7211a">×</text>
<text transform="matrix(0.9538 0 0.0000 1.0150 740.55 2326.45)" font-size="60" fill="#e7211a">10</text>
<text transform="matrix(1.3924 0 0.0000 1.2000 796.22 2314.80)" font-size="42" fill="#e7211a" stroke="none">−</text>
<text transform="matrix(1.3048 0 0.0000 1.0143 830.78 2308.45)" font-size="42" fill="#e7211a">10</text>
<text transform="matrix(1.1642 0 0.0000 0.9451 898.39 2326.46)" font-size="60" fill="#e7211a">cm</text>
<text transform="matrix(1.3924 0 0.0000 1.2000 986.42 2314.80)" font-size="42" fill="#e7211a" stroke="none">−</text>
<text transform="matrix(1.0526 0 0.0000 0.9835 1022.79 2308.45)" font-size="42" fill="#e7211a">1</text>
<text transform="matrix(1.3151 0 0.0000 1.0164 924.70 2500.05)" font-size="60" fill="#1d4ba0" font-style="italic">RMSE</text>
<text transform="matrix(1.5509 0 0.0000 1.2414 1140.60 2505.67)" font-size="60" fill="#1d4ba0">≈</text>
<text transform="matrix(1.0578 0 0.0000 1.0225 1204.48 2500.29)" font-size="60" fill="#1d4ba0">1.6</text>
<text transform="matrix(1.4021 0 0.0000 1.4316 1297.49 2508.45)" font-size="60" fill="#1d4ba0">×</text>
<text transform="matrix(1.0519 0 0.0000 1.0225 1348.71 2500.54)" font-size="60" fill="#1d4ba0">10</text>
<text transform="matrix(1.3924 0 0.0000 1.2000 1411.22 2488.60)" font-size="42" fill="#1d4ba0" stroke="none">−</text>
<text transform="matrix(1.1143 0 0.0000 1.0450 1449.83 2482.44)" font-size="42" fill="#1d4ba0">9</text>
<text transform="matrix(1.1728 0 0.0000 0.9487 1471.97 2500.06)" font-size="60" fill="#1d4ba0">cm</text>
<text transform="matrix(1.3924 0 0.0000 1.2000 1561.12 2488.60)" font-size="42" fill="#1d4ba0" stroke="none">−</text>
<text transform="matrix(1.0667 0 0.0000 1.0055 1596.73 2482.25)" font-size="42" fill="#1d4ba0">1</text>
<text transform="matrix(1.2011 0 0.0000 1.0138 738.70 2688.57)" font-size="60" fill="#000000">Wavelength</text>
<text transform="matrix(0.8000 0 -0.3475 1.4325 1086.67 2702.48)" font-size="60" fill="#000000" stroke="none">/</text>
<text transform="matrix(1.1627 0 0.0000 0.9947 1114.29 2689.35)" font-size="60" fill="#000000">cm</text>
<text transform="matrix(1.3772 0 0.0000 1.2000 1201.05 2679.10)" font-size="42" fill="#000000" stroke="none">−</text>
<text transform="matrix(1.0456 0 0.0000 0.9945 1238.82 2673.25)" font-size="42" fill="#000000">1</text>
<text transform="matrix(0 -1 1 0 0 0) matrix(1.1920 0 0.0000 0.9889 -2107.39 132.84)" font-size="60" fill="#e7211a">Absorptance</text>
<text transform="matrix(0 -1 1 0 0 0) matrix(0.8000 0 -0.3000 1.4700 -1743.15 147.76)" font-size="60" fill="#e7211a" stroke="none">/</text>
<text transform="matrix(0 -1 1 0 0 0) matrix(1.0846 0 0.0000 0.9975 -1712.67 134.45)" font-size="60" fill="#e7211a">10</text>
<text transform="matrix(0 -1 1 0 0 0) matrix(1.3519 0 0.0000 1.2000 -1645.40 122.70)" font-size="42" fill="#e7211a" stroke="none">−</text>
<text transform="matrix(0 -1 1 0 0 0) matrix(1.0914 0 0.0000 1.0162 -1611.28 116.95)" font-size="42" fill="#e7211a">6</text>
<text transform="matrix(0 -1 1 0 0 0) matrix(1.1513 0 0.0000 0.9062 -1574.88 134.17)" font-size="60" fill="#e7211a">cm</text>
<text transform="matrix(0 -1 1 0 0 0) matrix(1.4127 0 0.0000 1.2000 -1487.63 122.70)" font-size="42" fill="#e7211a" stroke="none">−</text>
<text transform="matrix(0 -1 1 0 0 0) matrix(1.0667 0 0.0000 0.9945 -1452.47 116.35)" font-size="42" fill="#e7211a">1</text>
<text transform="matrix(0 -1 1 0 0 0) matrix(1.1920 0 0.0000 0.9889 -2193.59 1824.14)" font-size="60" fill="#1d4ba0">Absorptance</text>
<text transform="matrix(0 -1 1 0 0 0) matrix(0.8000 0 -0.3000 1.4700 -1829.35 1839.07)" font-size="60" fill="#1d4ba0" stroke="none">/</text>
<text transform="matrix(0 -1 1 0 0 0) matrix(1.0846 0 0.0000 0.9975 -1798.87 1825.75)" font-size="60" fill="#1d4ba0">10</text>
<text transform="matrix(0 -1 1 0 0 0) matrix(1.3519 0 0.0000 1.2000 -1731.60 1814.00)" font-size="42" fill="#1d4ba0" stroke="none">−</text>
<text transform="matrix(0 -1 1 0 0 0) matrix(1.0914 0 0.0000 1.0162 -1697.48 1808.25)" font-size="42" fill="#1d4ba0">6</text>
<text transform="matrix(0 -1 1 0 0 0) matrix(1.1513 0 0.0000 0.9062 -1661.08 1825.47)" font-size="60" fill="#1d4ba0">cm</text>
<text transform="matrix(0 -1 1 0 0 0) matrix(1.4127 0 0.0000 1.2000 -1573.83 1814.00)" font-size="42" fill="#1d4ba0" stroke="none">−</text>
<text transform="matrix(0 -1 1 0 0 0) matrix(1.0667 0 0.0000 0.9945 -1538.67 1807.65)" font-size="42" fill="#1d4ba0">1</text>
<text transform="matrix(0 -1 1 0 0 0) matrix(1.0842 0 0.0000 0.9885 -2599.17 101.15)" font-size="60" fill="#000000">Res</text>
<text transform="matrix(0 -1 1 0 0 0) matrix(0.8000 0 -0.2950 1.4400 -2492.35 114.48)" font-size="60" fill="#000000" stroke="none">/</text>
<text transform="matrix(0 -1 1 0 0 0) matrix(1.0596 0 0.0000 0.9700 -2461.33 101.16)" font-size="60" fill="#000000">10</text>
<text transform="matrix(0 -1 1 0 0 0) matrix(1.2709 0 0.0000 1.2000 -2394.04 90.90)" font-size="42" fill="#000000" stroke="none">−</text>
<text transform="matrix(0 -1 1 0 0 0) matrix(1.3143 0 0.0000 1.0090 -2365.03 84.85)" font-size="42" fill="#000000">6</text>
<text transform="matrix(0 -1 1 0 0 0) matrix(1.1412 0 0.0000 0.8991 -2323.55 100.98)" font-size="60" fill="#000000">cm</text>
<text transform="matrix(0 -1 1 0 0 0) matrix(1.3671 0 0.0000 1.2000 -2236.83 90.90)" font-size="42" fill="#000000" stroke="none">−</text>
<text transform="matrix(0 -1 1 0 0 0) matrix(1.1298 0 0.0000 1.0275 -2202.62 85.36)" font-size="42" fill="#000000">1</text>
</g>
</svg>
</body></html>
